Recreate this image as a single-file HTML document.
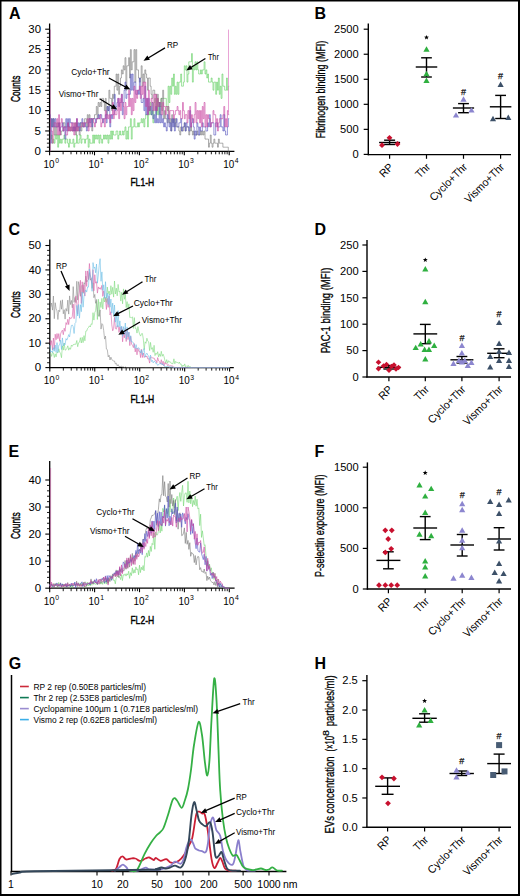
<!DOCTYPE html><html><head><meta charset="utf-8"><style>html,body{margin:0;padding:0;background:#fff;width:520px;height:896px;overflow:hidden}</style></head><body><svg width="520" height="896" viewBox="0 0 520 896" style="position:absolute;left:0;top:0;font-family:'Liberation Sans', sans-serif">
<rect x="0" y="0" width="520" height="896" fill="#fff"/>
<text x="9.0" y="19.0" font-size="16" font-weight="bold">A</text>
<text x="314.6" y="19.0" font-size="16" font-weight="bold">B</text>
<text x="8.5" y="234.9" font-size="16" font-weight="bold">C</text>
<text x="314.6" y="234.9" font-size="16" font-weight="bold">D</text>
<text x="8.6" y="456.8" font-size="16" font-weight="bold">E</text>
<text x="314.6" y="456.8" font-size="16" font-weight="bold">F</text>
<text x="8.7" y="669.0" font-size="16" font-weight="bold">G</text>
<text x="314.6" y="668.8" font-size="16" font-weight="bold">H</text>
<line x1="49.60" y1="23.50" x2="49.60" y2="151.90" stroke="#000" stroke-width="1.3"/>
<line x1="49.00" y1="151.30" x2="234.40" y2="151.30" stroke="#000" stroke-width="1.3"/>
<line x1="45.20" y1="151.30" x2="49.60" y2="151.30" stroke="#000" stroke-width="1.1"/>
<text x="41.00" y="154.90" font-size="10.6" text-anchor="end" textLength="6.4" lengthAdjust="spacingAndGlyphs" fill="#000">0</text>
<line x1="46.90" y1="147.23" x2="49.60" y2="147.23" stroke="#000" stroke-width="0.9"/>
<line x1="46.90" y1="143.16" x2="49.60" y2="143.16" stroke="#000" stroke-width="0.9"/>
<line x1="46.90" y1="139.09" x2="49.60" y2="139.09" stroke="#000" stroke-width="0.9"/>
<line x1="46.90" y1="135.02" x2="49.60" y2="135.02" stroke="#000" stroke-width="0.9"/>
<line x1="45.20" y1="130.95" x2="49.60" y2="130.95" stroke="#000" stroke-width="1.1"/>
<text x="41.00" y="134.55" font-size="10.6" text-anchor="end" textLength="6.4" lengthAdjust="spacingAndGlyphs" fill="#000">5</text>
<line x1="46.90" y1="126.88" x2="49.60" y2="126.88" stroke="#000" stroke-width="0.9"/>
<line x1="46.90" y1="122.81" x2="49.60" y2="122.81" stroke="#000" stroke-width="0.9"/>
<line x1="46.90" y1="118.74" x2="49.60" y2="118.74" stroke="#000" stroke-width="0.9"/>
<line x1="46.90" y1="114.67" x2="49.60" y2="114.67" stroke="#000" stroke-width="0.9"/>
<line x1="45.20" y1="110.60" x2="49.60" y2="110.60" stroke="#000" stroke-width="1.1"/>
<text x="41.00" y="114.20" font-size="10.6" text-anchor="end" textLength="12.7" lengthAdjust="spacingAndGlyphs" fill="#000">10</text>
<line x1="46.90" y1="106.53" x2="49.60" y2="106.53" stroke="#000" stroke-width="0.9"/>
<line x1="46.90" y1="102.46" x2="49.60" y2="102.46" stroke="#000" stroke-width="0.9"/>
<line x1="46.90" y1="98.39" x2="49.60" y2="98.39" stroke="#000" stroke-width="0.9"/>
<line x1="46.90" y1="94.32" x2="49.60" y2="94.32" stroke="#000" stroke-width="0.9"/>
<line x1="45.20" y1="90.25" x2="49.60" y2="90.25" stroke="#000" stroke-width="1.1"/>
<text x="41.00" y="93.85" font-size="10.6" text-anchor="end" textLength="12.7" lengthAdjust="spacingAndGlyphs" fill="#000">15</text>
<line x1="46.90" y1="86.18" x2="49.60" y2="86.18" stroke="#000" stroke-width="0.9"/>
<line x1="46.90" y1="82.11" x2="49.60" y2="82.11" stroke="#000" stroke-width="0.9"/>
<line x1="46.90" y1="78.04" x2="49.60" y2="78.04" stroke="#000" stroke-width="0.9"/>
<line x1="46.90" y1="73.97" x2="49.60" y2="73.97" stroke="#000" stroke-width="0.9"/>
<line x1="45.20" y1="69.90" x2="49.60" y2="69.90" stroke="#000" stroke-width="1.1"/>
<text x="41.00" y="73.50" font-size="10.6" text-anchor="end" textLength="12.7" lengthAdjust="spacingAndGlyphs" fill="#000">20</text>
<line x1="46.90" y1="65.83" x2="49.60" y2="65.83" stroke="#000" stroke-width="0.9"/>
<line x1="46.90" y1="61.76" x2="49.60" y2="61.76" stroke="#000" stroke-width="0.9"/>
<line x1="46.90" y1="57.69" x2="49.60" y2="57.69" stroke="#000" stroke-width="0.9"/>
<line x1="46.90" y1="53.62" x2="49.60" y2="53.62" stroke="#000" stroke-width="0.9"/>
<line x1="45.20" y1="49.55" x2="49.60" y2="49.55" stroke="#000" stroke-width="1.1"/>
<text x="41.00" y="53.15" font-size="10.6" text-anchor="end" textLength="12.7" lengthAdjust="spacingAndGlyphs" fill="#000">25</text>
<line x1="46.90" y1="45.48" x2="49.60" y2="45.48" stroke="#000" stroke-width="0.9"/>
<line x1="46.90" y1="41.41" x2="49.60" y2="41.41" stroke="#000" stroke-width="0.9"/>
<line x1="46.90" y1="37.34" x2="49.60" y2="37.34" stroke="#000" stroke-width="0.9"/>
<line x1="46.90" y1="33.27" x2="49.60" y2="33.27" stroke="#000" stroke-width="0.9"/>
<line x1="45.20" y1="29.20" x2="49.60" y2="29.20" stroke="#000" stroke-width="1.1"/>
<text x="41.00" y="32.80" font-size="10.6" text-anchor="end" textLength="12.7" lengthAdjust="spacingAndGlyphs" fill="#000">30</text>
<line x1="49.60" y1="151.30" x2="49.60" y2="155.30" stroke="#000" stroke-width="1.1"/>
<line x1="63.12" y1="151.30" x2="63.12" y2="154.30" stroke="#000" stroke-width="0.9"/>
<line x1="71.02" y1="151.30" x2="71.02" y2="154.30" stroke="#000" stroke-width="0.9"/>
<line x1="76.63" y1="151.30" x2="76.63" y2="154.30" stroke="#000" stroke-width="0.9"/>
<line x1="80.98" y1="151.30" x2="80.98" y2="154.30" stroke="#000" stroke-width="0.9"/>
<line x1="84.54" y1="151.30" x2="84.54" y2="154.30" stroke="#000" stroke-width="0.9"/>
<line x1="87.54" y1="151.30" x2="87.54" y2="154.30" stroke="#000" stroke-width="0.9"/>
<line x1="90.15" y1="151.30" x2="90.15" y2="154.30" stroke="#000" stroke-width="0.9"/>
<line x1="92.45" y1="151.30" x2="92.45" y2="154.30" stroke="#000" stroke-width="0.9"/>
<line x1="94.50" y1="151.30" x2="94.50" y2="155.30" stroke="#000" stroke-width="1.1"/>
<line x1="108.02" y1="151.30" x2="108.02" y2="154.30" stroke="#000" stroke-width="0.9"/>
<line x1="115.92" y1="151.30" x2="115.92" y2="154.30" stroke="#000" stroke-width="0.9"/>
<line x1="121.53" y1="151.30" x2="121.53" y2="154.30" stroke="#000" stroke-width="0.9"/>
<line x1="125.88" y1="151.30" x2="125.88" y2="154.30" stroke="#000" stroke-width="0.9"/>
<line x1="129.44" y1="151.30" x2="129.44" y2="154.30" stroke="#000" stroke-width="0.9"/>
<line x1="132.44" y1="151.30" x2="132.44" y2="154.30" stroke="#000" stroke-width="0.9"/>
<line x1="135.05" y1="151.30" x2="135.05" y2="154.30" stroke="#000" stroke-width="0.9"/>
<line x1="137.35" y1="151.30" x2="137.35" y2="154.30" stroke="#000" stroke-width="0.9"/>
<line x1="139.40" y1="151.30" x2="139.40" y2="155.30" stroke="#000" stroke-width="1.1"/>
<line x1="152.92" y1="151.30" x2="152.92" y2="154.30" stroke="#000" stroke-width="0.9"/>
<line x1="160.82" y1="151.30" x2="160.82" y2="154.30" stroke="#000" stroke-width="0.9"/>
<line x1="166.43" y1="151.30" x2="166.43" y2="154.30" stroke="#000" stroke-width="0.9"/>
<line x1="170.78" y1="151.30" x2="170.78" y2="154.30" stroke="#000" stroke-width="0.9"/>
<line x1="174.34" y1="151.30" x2="174.34" y2="154.30" stroke="#000" stroke-width="0.9"/>
<line x1="177.34" y1="151.30" x2="177.34" y2="154.30" stroke="#000" stroke-width="0.9"/>
<line x1="179.95" y1="151.30" x2="179.95" y2="154.30" stroke="#000" stroke-width="0.9"/>
<line x1="182.25" y1="151.30" x2="182.25" y2="154.30" stroke="#000" stroke-width="0.9"/>
<line x1="184.30" y1="151.30" x2="184.30" y2="155.30" stroke="#000" stroke-width="1.1"/>
<line x1="197.82" y1="151.30" x2="197.82" y2="154.30" stroke="#000" stroke-width="0.9"/>
<line x1="205.72" y1="151.30" x2="205.72" y2="154.30" stroke="#000" stroke-width="0.9"/>
<line x1="211.33" y1="151.30" x2="211.33" y2="154.30" stroke="#000" stroke-width="0.9"/>
<line x1="215.68" y1="151.30" x2="215.68" y2="154.30" stroke="#000" stroke-width="0.9"/>
<line x1="219.24" y1="151.30" x2="219.24" y2="154.30" stroke="#000" stroke-width="0.9"/>
<line x1="222.24" y1="151.30" x2="222.24" y2="154.30" stroke="#000" stroke-width="0.9"/>
<line x1="224.85" y1="151.30" x2="224.85" y2="154.30" stroke="#000" stroke-width="0.9"/>
<line x1="227.15" y1="151.30" x2="227.15" y2="154.30" stroke="#000" stroke-width="0.9"/>
<line x1="229.20" y1="151.30" x2="229.20" y2="155.30" stroke="#000" stroke-width="1.1"/>
<text x="43.60" y="167.60" font-size="10" textLength="11.0" lengthAdjust="spacingAndGlyphs">10</text>
<text x="55.20" y="163.30" font-size="6.8">0</text>
<text x="88.50" y="167.60" font-size="10" textLength="11.0" lengthAdjust="spacingAndGlyphs">10</text>
<text x="100.10" y="163.30" font-size="6.8">1</text>
<text x="133.40" y="167.60" font-size="10" textLength="11.0" lengthAdjust="spacingAndGlyphs">10</text>
<text x="145.00" y="163.30" font-size="6.8">2</text>
<text x="178.30" y="167.60" font-size="10" textLength="11.0" lengthAdjust="spacingAndGlyphs">10</text>
<text x="189.90" y="163.30" font-size="6.8">3</text>
<text x="223.20" y="167.60" font-size="10" textLength="11.0" lengthAdjust="spacingAndGlyphs">10</text>
<text x="234.80" y="163.30" font-size="6.8">4</text>
<text transform="translate(20.10,88.90) rotate(-90)" font-size="13.2" text-anchor="middle" textLength="26.4" lengthAdjust="spacingAndGlyphs" stroke="#000" stroke-width="0.45">Counts</text>
<text x="130.40" y="185.80" font-size="11.8" text-anchor="start" textLength="23.8" lengthAdjust="spacingAndGlyphs" fill="#000" stroke="#000" stroke-width="0.45">FL1-H</text>
<path d="M49.6,139.1 L50.5,139.1 L50.5,139.1 L51.4,139.1 L51.4,135.0 L52.3,135.0 L52.3,143.2 L53.2,143.2 L53.2,139.1 L54.1,139.1 L54.1,143.2 L55.0,143.2 L55.0,135.0 L55.9,135.0 L55.9,139.1 L56.8,139.1 L56.8,135.0 L57.7,135.0 L57.7,147.2 L58.6,147.2 L58.6,135.0 L59.5,135.0 L59.5,143.2 L60.4,143.2 L60.4,139.1 L61.3,139.1 L61.3,143.2 L62.2,143.2 L62.2,139.1 L63.1,139.1 L63.1,139.1 L64.0,139.1 L64.0,135.0 L64.9,135.0 L64.9,143.2 L65.8,143.2 L65.8,139.1 L66.7,139.1 L66.7,139.1 L67.6,139.1 L67.6,143.2 L68.5,143.2 L68.5,147.2 L69.4,147.2 L69.4,139.1 L70.3,139.1 L70.3,143.2 L71.2,143.2 L71.2,143.2 L72.0,143.2 L72.0,143.2 L72.9,143.2 L72.9,139.1 L73.8,139.1 L73.8,147.2 L74.7,147.2 L74.7,143.2 L75.6,143.2 L75.6,143.2 L76.5,143.2 L76.5,135.0 L77.4,135.0 L77.4,143.2 L78.3,143.2 L78.3,143.2 L79.2,143.2 L79.2,139.1 L80.1,139.1 L80.1,135.0 L81.0,135.0 L81.0,143.2 L81.9,143.2 L81.9,139.1 L82.8,139.1 L82.8,139.1 L83.7,139.1 L83.7,139.1 L84.6,139.1 L84.6,143.2 L85.5,143.2 L85.5,139.1 L86.4,139.1 L86.4,139.1 L87.3,139.1 L87.3,135.0 L88.2,135.0 L88.2,147.2 L89.1,147.2 L89.1,139.1 L90.0,139.1 L90.0,143.2 L90.9,143.2 L90.9,143.2 L91.8,143.2 L91.8,143.2 L92.7,143.2 L92.7,135.0 L93.6,135.0 L93.6,143.2 L94.5,143.2 L94.5,135.0 L95.4,135.0 L95.4,139.1 L96.3,139.1 L96.3,135.0 L97.2,135.0 L97.2,139.1 L98.1,139.1 L98.1,135.0 L99.0,135.0 L99.0,143.2 L99.9,143.2 L99.9,135.0 L100.8,135.0 L100.8,139.1 L101.7,139.1 L101.7,143.2 L102.6,143.2 L102.6,139.1 L103.5,139.1 L103.5,135.0 L104.4,135.0 L104.4,139.1 L105.3,139.1 L105.3,135.0 L106.2,135.0 L106.2,139.1 L107.1,139.1 L107.1,135.0 L108.0,135.0 L108.0,143.2 L108.9,143.2 L108.9,135.0 L109.8,135.0 L109.8,139.1 L110.7,139.1 L110.7,131.0 L111.6,131.0 L111.6,139.1 L112.5,139.1 L112.5,131.0 L113.4,131.0 L113.4,135.0 L114.3,135.0 L114.3,135.0 L115.2,135.0 L115.2,135.0 L116.1,135.0 L116.1,131.0 L116.9,131.0 L116.9,131.0 L117.8,131.0 L117.8,139.1 L118.7,139.1 L118.7,135.0 L119.6,135.0 L119.6,131.0 L120.5,131.0 L120.5,135.0 L121.4,135.0 L121.4,135.0 L122.3,135.0 L122.3,131.0 L123.2,131.0 L123.2,135.0 L124.1,135.0 L124.1,131.0 L125.0,131.0 L125.0,126.9 L125.9,126.9 L125.9,139.1 L126.8,139.1 L126.8,131.0 L127.7,131.0 L127.7,139.1 L128.6,139.1 L128.6,126.9 L129.5,126.9 L129.5,126.9 L130.4,126.9 L130.4,118.7 L131.3,118.7 L131.3,139.1 L132.2,139.1 L132.2,126.9 L133.1,126.9 L133.1,126.9 L134.0,126.9 L134.0,118.7 L134.9,118.7 L134.9,126.9 L135.8,126.9 L135.8,126.9 L136.7,126.9 L136.7,126.9 L137.6,126.9 L137.6,122.8 L138.5,122.8 L138.5,126.9 L139.4,126.9 L139.4,122.8 L140.3,122.8 L140.3,122.8 L141.2,122.8 L141.2,118.7 L142.1,118.7 L142.1,122.8 L143.0,122.8 L143.0,118.7 L143.9,118.7 L143.9,126.9 L144.8,126.9 L144.8,118.7 L145.7,118.7 L145.7,114.7 L146.6,114.7 L146.6,114.7 L147.5,114.7 L147.5,126.9 L148.4,126.9 L148.4,106.5 L149.3,106.5 L149.3,114.7 L150.2,114.7 L150.2,102.5 L151.1,102.5 L151.1,114.7 L152.0,114.7 L152.0,110.6 L152.9,110.6 L152.9,122.8 L153.8,122.8 L153.8,102.5 L154.7,102.5 L154.7,98.4 L155.6,98.4 L155.6,110.6 L156.5,110.6 L156.5,114.7 L157.4,114.7 L157.4,98.4 L158.3,98.4 L158.3,114.7 L159.2,114.7 L159.2,102.5 L160.1,102.5 L160.1,106.5 L161.0,106.5 L161.0,98.4 L161.8,98.4 L161.8,98.4 L162.7,98.4 L162.7,98.4 L163.6,98.4 L163.6,98.4 L164.5,98.4 L164.5,98.4 L165.4,98.4 L165.4,98.4 L166.3,98.4 L166.3,106.5 L167.2,106.5 L167.2,110.6 L168.1,110.6 L168.1,86.2 L169.0,86.2 L169.0,102.5 L169.9,102.5 L169.9,86.2 L170.8,86.2 L170.8,94.3 L171.7,94.3 L171.7,78.0 L172.6,78.0 L172.6,86.2 L173.5,86.2 L173.5,74.0 L174.4,74.0 L174.4,94.3 L175.3,94.3 L175.3,86.2 L176.2,86.2 L176.2,94.3 L177.1,94.3 L177.1,82.1 L178.0,82.1 L178.0,94.3 L178.9,94.3 L178.9,82.1 L179.8,82.1 L179.8,82.1 L180.7,82.1 L180.7,74.0 L181.6,74.0 L181.6,86.2 L182.5,86.2 L182.5,86.2 L183.4,86.2 L183.4,82.1 L184.3,82.1 L184.3,65.8 L185.2,65.8 L185.2,69.9 L186.1,69.9 L186.1,65.8 L187.0,65.8 L187.0,82.1 L187.9,82.1 L187.9,74.0 L188.8,74.0 L188.8,61.8 L189.7,61.8 L189.7,61.8 L190.6,61.8 L190.6,61.8 L191.5,61.8 L191.5,53.6 L192.4,53.6 L192.4,82.1 L193.3,82.1 L193.3,65.8 L194.2,65.8 L194.2,69.9 L195.1,69.9 L195.1,61.8 L196.0,61.8 L196.0,69.9 L196.9,69.9 L196.9,61.8 L197.8,61.8 L197.8,69.9 L198.7,69.9 L198.7,74.0 L199.6,74.0 L199.6,74.0 L200.5,74.0 L200.5,69.9 L201.4,69.9 L201.4,74.0 L202.3,74.0 L202.3,69.9 L203.2,69.9 L203.2,69.9 L204.1,69.9 L204.1,61.8 L205.0,61.8 L205.0,74.0 L205.9,74.0 L205.9,69.9 L206.8,69.9 L206.8,78.0 L207.6,78.0 L207.6,74.0 L208.5,74.0 L208.5,82.1 L209.4,82.1 L209.4,82.1 L210.3,82.1 L210.3,82.1 L211.2,82.1 L211.2,78.0 L212.1,78.0 L212.1,82.1 L213.0,82.1 L213.0,90.2 L213.9,90.2 L213.9,82.1 L214.8,82.1 L214.8,82.1 L215.7,82.1 L215.7,94.3 L216.6,94.3 L216.6,82.1 L217.5,82.1 L217.5,90.2 L218.4,90.2 L218.4,78.0 L219.3,78.0 L219.3,94.3 L220.2,94.3 L220.2,86.2 L221.1,86.2 L221.1,98.4 L222.0,98.4 L222.0,74.0 L222.9,74.0 L222.9,86.2 L223.8,86.2 L223.8,86.2 L224.7,86.2 L224.7,90.2 L225.6,90.2 L225.6,90.2 L226.5,90.2 L226.5,78.0 L227.4,78.0 L227.4,90.2 L228.3,90.2 L228.3,86.2 L229.2,86.2" fill="none" stroke="#5ecf5e" stroke-width="0.6" stroke-linejoin="miter" opacity="1.0"/>
<path d="M49.6,122.8 L50.5,122.8 L50.5,126.9 L51.4,126.9 L51.4,118.7 L52.3,118.7 L52.3,126.9 L53.2,126.9 L53.2,118.7 L54.1,118.7 L54.1,135.0 L55.0,135.0 L55.0,126.9 L55.9,126.9 L55.9,135.0 L56.8,135.0 L56.8,122.8 L57.7,122.8 L57.7,126.9 L58.6,126.9 L58.6,122.8 L59.5,122.8 L59.5,131.0 L60.4,131.0 L60.4,135.0 L61.3,135.0 L61.3,131.0 L62.2,131.0 L62.2,131.0 L63.1,131.0 L63.1,122.8 L64.0,122.8 L64.0,122.8 L64.9,122.8 L64.9,126.9 L65.8,126.9 L65.8,126.9 L66.7,126.9 L66.7,126.9 L67.6,126.9 L67.6,122.8 L68.5,122.8 L68.5,131.0 L69.4,131.0 L69.4,126.9 L70.3,126.9 L70.3,131.0 L71.2,131.0 L71.2,126.9 L72.0,126.9 L72.0,131.0 L72.9,131.0 L72.9,126.9 L73.8,126.9 L73.8,131.0 L74.7,131.0 L74.7,122.8 L75.6,122.8 L75.6,135.0 L76.5,135.0 L76.5,122.8 L77.4,122.8 L77.4,131.0 L78.3,131.0 L78.3,126.9 L79.2,126.9 L79.2,135.0 L80.1,135.0 L80.1,122.8 L81.0,122.8 L81.0,131.0 L81.9,131.0 L81.9,122.8 L82.8,122.8 L82.8,126.9 L83.7,126.9 L83.7,122.8 L84.6,122.8 L84.6,118.7 L85.5,118.7 L85.5,118.7 L86.4,118.7 L86.4,126.9 L87.3,126.9 L87.3,114.7 L88.2,114.7 L88.2,126.9 L89.1,126.9 L89.1,114.7 L90.0,114.7 L90.0,118.7 L90.9,118.7 L90.9,118.7 L91.8,118.7 L91.8,131.0 L92.7,131.0 L92.7,118.7 L93.6,118.7 L93.6,118.7 L94.5,118.7 L94.5,114.7 L95.4,114.7 L95.4,114.7 L96.3,114.7 L96.3,106.5 L97.2,106.5 L97.2,118.7 L98.1,118.7 L98.1,102.5 L99.0,102.5 L99.0,106.5 L99.9,106.5 L99.9,102.5 L100.8,102.5 L100.8,106.5 L101.7,106.5 L101.7,98.4 L102.6,98.4 L102.6,98.4 L103.5,98.4 L103.5,102.5 L104.4,102.5 L104.4,110.6 L105.3,110.6 L105.3,98.4 L106.2,98.4 L106.2,114.7 L107.1,114.7 L107.1,106.5 L108.0,106.5 L108.0,110.6 L108.9,110.6 L108.9,90.2 L109.8,90.2 L109.8,98.4 L110.7,98.4 L110.7,98.4 L111.6,98.4 L111.6,110.6 L112.5,110.6 L112.5,94.3 L113.4,94.3 L113.4,98.4 L114.3,98.4 L114.3,86.2 L115.2,86.2 L115.2,86.2 L116.1,86.2 L116.1,74.0 L116.9,74.0 L116.9,90.2 L117.8,90.2 L117.8,74.0 L118.7,74.0 L118.7,94.3 L119.6,94.3 L119.6,86.2 L120.5,86.2 L120.5,78.0 L121.4,78.0 L121.4,69.9 L122.3,69.9 L122.3,74.0 L123.2,74.0 L123.2,65.8 L124.1,65.8 L124.1,69.9 L125.0,69.9 L125.0,57.7 L125.9,57.7 L125.9,90.2 L126.8,90.2 L126.8,65.8 L127.7,65.8 L127.7,65.8 L128.6,65.8 L128.6,57.7 L129.5,57.7 L129.5,78.0 L130.4,78.0 L130.4,49.6 L131.3,49.6 L131.3,69.9 L132.2,69.9 L132.2,61.8 L133.1,61.8 L133.1,61.8 L134.0,61.8 L134.0,49.6 L134.9,49.6 L134.9,82.1 L135.8,82.1 L135.8,49.6 L136.7,49.6 L136.7,69.9 L137.6,69.9 L137.6,69.9 L138.5,69.9 L138.5,78.0 L139.4,78.0 L139.4,82.1 L140.3,82.1 L140.3,78.0 L141.2,78.0 L141.2,65.8 L142.1,65.8 L142.1,86.2 L143.0,86.2 L143.0,74.0 L143.9,74.0 L143.9,82.1 L144.8,82.1 L144.8,69.9 L145.7,69.9 L145.7,74.0 L146.6,74.0 L146.6,78.0 L147.5,78.0 L147.5,90.2 L148.4,90.2 L148.4,78.0 L149.3,78.0 L149.3,78.0 L150.2,78.0 L150.2,86.2 L151.1,86.2 L151.1,94.3 L152.0,94.3 L152.0,98.4 L152.9,98.4 L152.9,90.2 L153.8,90.2 L153.8,90.2 L154.7,90.2 L154.7,94.3 L155.6,94.3 L155.6,94.3 L156.5,94.3 L156.5,110.6 L157.4,110.6 L157.4,94.3 L158.3,94.3 L158.3,102.5 L159.2,102.5 L159.2,106.5 L160.1,106.5 L160.1,114.7 L161.0,114.7 L161.0,98.4 L161.8,98.4 L161.8,110.6 L162.7,110.6 L162.7,90.2 L163.6,90.2 L163.6,118.7 L164.5,118.7 L164.5,110.6 L165.4,110.6 L165.4,118.7 L166.3,118.7 L166.3,118.7 L167.2,118.7 L167.2,122.8 L168.1,122.8 L168.1,106.5 L169.0,106.5 L169.0,122.8 L169.9,122.8 L169.9,118.7 L170.8,118.7 L170.8,131.0 L171.7,131.0 L171.7,114.7 L172.6,114.7 L172.6,122.8 L173.5,122.8 L173.5,118.7 L174.4,118.7 L174.4,126.9 L175.3,126.9 L175.3,118.7 L176.2,118.7 L176.2,126.9 L177.1,126.9 L177.1,126.9 L178.0,126.9 L178.0,126.9 L178.9,126.9 L178.9,131.0 L179.8,131.0 L179.8,135.0 L180.7,135.0 L180.7,126.9 L181.6,126.9 L181.6,131.0 L182.5,131.0 L182.5,131.0 L183.4,131.0 L183.4,126.9 L184.3,126.9 L184.3,122.8 L185.2,122.8 L185.2,131.0 L186.1,131.0 L186.1,126.9 L187.0,126.9 L187.0,126.9 L187.9,126.9 L187.9,126.9 L188.8,126.9 L188.8,135.0 L189.7,135.0 L189.7,131.0 L190.6,131.0 L190.6,126.9 L191.5,126.9 L191.5,131.0 L192.4,131.0 L192.4,135.0 L193.3,135.0 L193.3,131.0 L194.2,131.0 L194.2,135.0 L195.1,135.0 L195.1,135.0 L196.0,135.0 L196.0,135.0 L196.9,135.0 L196.9,131.0 L197.8,131.0 L197.8,135.0 L198.7,135.0 L198.7,135.0 L199.6,135.0 L199.6,135.0 L200.5,135.0 L200.5,131.0 L201.4,131.0 L201.4,135.0 L202.3,135.0 L202.3,131.0 L203.2,131.0 L203.2,135.0 L204.1,135.0 L204.1,131.0 L205.0,131.0 L205.0,139.1 L205.9,139.1 L205.9,139.1 L206.8,139.1 L206.8,139.1 L207.6,139.1 L207.6,139.1 L208.5,139.1 L208.5,147.2 L209.4,147.2 L209.4,143.2 L210.3,143.2 L210.3,135.0 L211.2,135.0 L211.2,143.2 L212.1,143.2 L212.1,147.2 L213.0,147.2 L213.0,143.2 L213.9,143.2 L213.9,139.1 L214.8,139.1 L214.8,143.2 L215.7,143.2 L215.7,143.2 L216.6,143.2 L216.6,143.2 L217.5,143.2 L217.5,147.2 L218.4,147.2 L218.4,139.1 L219.3,139.1 L219.3,143.2 L220.2,143.2 L220.2,143.2 L221.1,143.2 L221.1,143.2 L222.0,143.2 L222.0,143.2 L222.9,143.2 L222.9,147.2 L223.8,147.2 L223.8,147.2 L224.7,147.2 L224.7,147.2 L225.6,147.2 L225.6,147.2 L226.5,147.2 L226.5,147.2 L227.4,147.2 L227.4,147.2 L228.3,147.2 L228.3,151.3 L229.2,151.3" fill="none" stroke="#777" stroke-width="0.6" stroke-linejoin="miter" opacity="1.0"/>
<path d="M49.6,114.7 L50.5,114.7 L50.5,143.2 L51.4,143.2 L51.4,118.7 L52.3,118.7 L52.3,126.9 L53.2,126.9 L53.2,118.7 L54.1,118.7 L54.1,126.9 L55.0,126.9 L55.0,118.7 L55.9,118.7 L55.9,126.9 L56.8,126.9 L56.8,126.9 L57.7,126.9 L57.7,126.9 L58.6,126.9 L58.6,122.8 L59.5,122.8 L59.5,131.0 L60.4,131.0 L60.4,126.9 L61.3,126.9 L61.3,126.9 L62.2,126.9 L62.2,122.8 L63.1,122.8 L63.1,131.0 L64.0,131.0 L64.0,126.9 L64.9,126.9 L64.9,139.1 L65.8,139.1 L65.8,118.7 L66.7,118.7 L66.7,131.0 L67.6,131.0 L67.6,118.7 L68.5,118.7 L68.5,126.9 L69.4,126.9 L69.4,118.7 L70.3,118.7 L70.3,122.8 L71.2,122.8 L71.2,122.8 L72.0,122.8 L72.0,122.8 L72.9,122.8 L72.9,131.0 L73.8,131.0 L73.8,126.9 L74.7,126.9 L74.7,131.0 L75.6,131.0 L75.6,126.9 L76.5,126.9 L76.5,118.7 L77.4,118.7 L77.4,126.9 L78.3,126.9 L78.3,122.8 L79.2,122.8 L79.2,131.0 L80.1,131.0 L80.1,122.8 L81.0,122.8 L81.0,122.8 L81.9,122.8 L81.9,118.7 L82.8,118.7 L82.8,126.9 L83.7,126.9 L83.7,126.9 L84.6,126.9 L84.6,122.8 L85.5,122.8 L85.5,126.9 L86.4,126.9 L86.4,131.0 L87.3,131.0 L87.3,126.9 L88.2,126.9 L88.2,122.8 L89.1,122.8 L89.1,118.7 L90.0,118.7 L90.0,122.8 L90.9,122.8 L90.9,118.7 L91.8,118.7 L91.8,126.9 L92.7,126.9 L92.7,118.7 L93.6,118.7 L93.6,118.7 L94.5,118.7 L94.5,118.7 L95.4,118.7 L95.4,122.8 L96.3,122.8 L96.3,118.7 L97.2,118.7 L97.2,118.7 L98.1,118.7 L98.1,114.7 L99.0,114.7 L99.0,118.7 L99.9,118.7 L99.9,114.7 L100.8,114.7 L100.8,114.7 L101.7,114.7 L101.7,118.7 L102.6,118.7 L102.6,122.8 L103.5,122.8 L103.5,118.7 L104.4,118.7 L104.4,118.7 L105.3,118.7 L105.3,114.7 L106.2,114.7 L106.2,122.8 L107.1,122.8 L107.1,106.5 L108.0,106.5 L108.0,110.6 L108.9,110.6 L108.9,106.5 L109.8,106.5 L109.8,126.9 L110.7,126.9 L110.7,114.7 L111.6,114.7 L111.6,118.7 L112.5,118.7 L112.5,114.7 L113.4,114.7 L113.4,114.7 L114.3,114.7 L114.3,94.3 L115.2,94.3 L115.2,110.6 L116.1,110.6 L116.1,106.5 L116.9,106.5 L116.9,102.5 L117.8,102.5 L117.8,98.4 L118.7,98.4 L118.7,106.5 L119.6,106.5 L119.6,102.5 L120.5,102.5 L120.5,102.5 L121.4,102.5 L121.4,94.3 L122.3,94.3 L122.3,114.7 L123.2,114.7 L123.2,102.5 L124.1,102.5 L124.1,90.2 L125.0,90.2 L125.0,82.1 L125.9,82.1 L125.9,98.4 L126.8,98.4 L126.8,94.3 L127.7,94.3 L127.7,94.3 L128.6,94.3 L128.6,94.3 L129.5,94.3 L129.5,94.3 L130.4,94.3 L130.4,74.0 L131.3,74.0 L131.3,90.2 L132.2,90.2 L132.2,74.0 L133.1,74.0 L133.1,90.2 L134.0,90.2 L134.0,82.1 L134.9,82.1 L134.9,82.1 L135.8,82.1 L135.8,94.3 L136.7,94.3 L136.7,94.3 L137.6,94.3 L137.6,90.2 L138.5,90.2 L138.5,94.3 L139.4,94.3 L139.4,78.0 L140.3,78.0 L140.3,94.3 L141.2,94.3 L141.2,102.5 L142.1,102.5 L142.1,102.5 L143.0,102.5 L143.0,98.4 L143.9,98.4 L143.9,110.6 L144.8,110.6 L144.8,86.2 L145.7,86.2 L145.7,114.7 L146.6,114.7 L146.6,98.4 L147.5,98.4 L147.5,114.7 L148.4,114.7 L148.4,98.4 L149.3,98.4 L149.3,110.6 L150.2,110.6 L150.2,106.5 L151.1,106.5 L151.1,114.7 L152.0,114.7 L152.0,102.5 L152.9,102.5 L152.9,118.7 L153.8,118.7 L153.8,114.7 L154.7,114.7 L154.7,122.8 L155.6,122.8 L155.6,106.5 L156.5,106.5 L156.5,122.8 L157.4,122.8 L157.4,118.7 L158.3,118.7 L158.3,122.8 L159.2,122.8 L159.2,102.5 L160.1,102.5 L160.1,122.8 L161.0,122.8 L161.0,114.7 L161.8,114.7 L161.8,122.8 L162.7,122.8 L162.7,118.7 L163.6,118.7 L163.6,126.9 L164.5,126.9 L164.5,122.8 L165.4,122.8 L165.4,126.9 L166.3,126.9 L166.3,131.0 L167.2,131.0 L167.2,114.7 L168.1,114.7 L168.1,118.7 L169.0,118.7 L169.0,126.9 L169.9,126.9 L169.9,122.8 L170.8,122.8 L170.8,131.0 L171.7,131.0 L171.7,118.7 L172.6,118.7 L172.6,126.9 L173.5,126.9 L173.5,118.7 L174.4,118.7 L174.4,131.0 L175.3,131.0 L175.3,122.8 L176.2,122.8 L176.2,118.7 L177.1,118.7 L177.1,126.9 L178.0,126.9 L178.0,126.9 L178.9,126.9 L178.9,122.8 L179.8,122.8 L179.8,122.8 L180.7,122.8 L180.7,118.7 L181.6,118.7 L181.6,131.0 L182.5,131.0 L182.5,126.9 L183.4,126.9 L183.4,126.9 L184.3,126.9 L184.3,122.8 L185.2,122.8 L185.2,131.0 L186.1,131.0 L186.1,122.8 L187.0,122.8 L187.0,126.9 L187.9,126.9 L187.9,126.9 L188.8,126.9 L188.8,131.0 L189.7,131.0 L189.7,110.6 L190.6,110.6 L190.6,126.9 L191.5,126.9 L191.5,122.8 L192.4,122.8 L192.4,118.7 L193.3,118.7 L193.3,126.9 L194.2,126.9 L194.2,139.1 L195.1,139.1 L195.1,131.0 L196.0,131.0 L196.0,135.0 L196.9,135.0 L196.9,122.8 L197.8,122.8 L197.8,126.9 L198.7,126.9 L198.7,135.0 L199.6,135.0 L199.6,126.9 L200.5,126.9 L200.5,131.0 L201.4,131.0 L201.4,131.0 L202.3,131.0 L202.3,122.8 L203.2,122.8 L203.2,126.9 L204.1,126.9 L204.1,126.9 L205.0,126.9 L205.0,126.9 L205.9,126.9 L205.9,131.0 L206.8,131.0 L206.8,131.0 L207.6,131.0 L207.6,122.8 L208.5,122.8 L208.5,126.9 L209.4,126.9 L209.4,114.7 L210.3,114.7 L210.3,126.9 L211.2,126.9 L211.2,122.8 L212.1,122.8 L212.1,122.8 L213.0,122.8 L213.0,122.8 L213.9,122.8 L213.9,135.0 L214.8,135.0 L214.8,135.0 L215.7,135.0 L215.7,122.8 L216.6,122.8 L216.6,122.8 L217.5,122.8 L217.5,126.9 L218.4,126.9 L218.4,126.9 L219.3,126.9 L219.3,126.9 L220.2,126.9 L220.2,114.7 L221.1,114.7 L221.1,126.9 L222.0,126.9 L222.0,126.9 L222.9,126.9 L222.9,131.0 L223.8,131.0 L223.8,114.7 L224.7,114.7 L224.7,131.0 L225.6,131.0 L225.6,135.0 L226.5,135.0 L226.5,135.0 L227.4,135.0 L227.4,126.9 L228.3,126.9 L228.3,118.7 L229.2,118.7" fill="none" stroke="#4d4dbb" stroke-width="0.6" stroke-linejoin="miter" opacity="1.0"/>
<path d="M49.6,118.7 L50.5,118.7 L50.5,131.0 L51.4,131.0 L51.4,131.0 L52.3,131.0 L52.3,143.2 L53.2,143.2 L53.2,126.9 L54.1,126.9 L54.1,122.8 L55.0,122.8 L55.0,122.8 L55.9,122.8 L55.9,126.9 L56.8,126.9 L56.8,118.7 L57.7,118.7 L57.7,135.0 L58.6,135.0 L58.6,114.7 L59.5,114.7 L59.5,135.0 L60.4,135.0 L60.4,122.8 L61.3,122.8 L61.3,118.7 L62.2,118.7 L62.2,126.9 L63.1,126.9 L63.1,131.0 L64.0,131.0 L64.0,126.9 L64.9,126.9 L64.9,126.9 L65.8,126.9 L65.8,135.0 L66.7,135.0 L66.7,135.0 L67.6,135.0 L67.6,122.8 L68.5,122.8 L68.5,131.0 L69.4,131.0 L69.4,126.9 L70.3,126.9 L70.3,131.0 L71.2,131.0 L71.2,122.8 L72.0,122.8 L72.0,131.0 L72.9,131.0 L72.9,122.8 L73.8,122.8 L73.8,135.0 L74.7,135.0 L74.7,122.8 L75.6,122.8 L75.6,131.0 L76.5,131.0 L76.5,118.7 L77.4,118.7 L77.4,131.0 L78.3,131.0 L78.3,126.9 L79.2,126.9 L79.2,126.9 L80.1,126.9 L80.1,126.9 L81.0,126.9 L81.0,126.9 L81.9,126.9 L81.9,122.8 L82.8,122.8 L82.8,122.8 L83.7,122.8 L83.7,126.9 L84.6,126.9 L84.6,122.8 L85.5,122.8 L85.5,122.8 L86.4,122.8 L86.4,122.8 L87.3,122.8 L87.3,118.7 L88.2,118.7 L88.2,131.0 L89.1,131.0 L89.1,118.7 L90.0,118.7 L90.0,126.9 L90.9,126.9 L90.9,118.7 L91.8,118.7 L91.8,118.7 L92.7,118.7 L92.7,118.7 L93.6,118.7 L93.6,122.8 L94.5,122.8 L94.5,126.9 L95.4,126.9 L95.4,122.8 L96.3,122.8 L96.3,118.7 L97.2,118.7 L97.2,118.7 L98.1,118.7 L98.1,118.7 L99.0,118.7 L99.0,118.7 L99.9,118.7 L99.9,114.7 L100.8,114.7 L100.8,126.9 L101.7,126.9 L101.7,122.8 L102.6,122.8 L102.6,118.7 L103.5,118.7 L103.5,118.7 L104.4,118.7 L104.4,126.9 L105.3,126.9 L105.3,110.6 L106.2,110.6 L106.2,118.7 L107.1,118.7 L107.1,114.7 L108.0,114.7 L108.0,118.7 L108.9,118.7 L108.9,114.7 L109.8,114.7 L109.8,122.8 L110.7,122.8 L110.7,114.7 L111.6,114.7 L111.6,114.7 L112.5,114.7 L112.5,102.5 L113.4,102.5 L113.4,118.7 L114.3,118.7 L114.3,110.6 L115.2,110.6 L115.2,114.7 L116.1,114.7 L116.1,114.7 L116.9,114.7 L116.9,110.6 L117.8,110.6 L117.8,98.4 L118.7,98.4 L118.7,118.7 L119.6,118.7 L119.6,98.4 L120.5,98.4 L120.5,110.6 L121.4,110.6 L121.4,94.3 L122.3,94.3 L122.3,102.5 L123.2,102.5 L123.2,106.5 L124.1,106.5 L124.1,118.7 L125.0,118.7 L125.0,102.5 L125.9,102.5 L125.9,114.7 L126.8,114.7 L126.8,106.5 L127.7,106.5 L127.7,106.5 L128.6,106.5 L128.6,90.2 L129.5,90.2 L129.5,106.5 L130.4,106.5 L130.4,98.4 L131.3,98.4 L131.3,114.7 L132.2,114.7 L132.2,98.4 L133.1,98.4 L133.1,110.6 L134.0,110.6 L134.0,86.2 L134.9,86.2 L134.9,102.5 L135.8,102.5 L135.8,90.2 L136.7,90.2 L136.7,98.4 L137.6,98.4 L137.6,90.2 L138.5,90.2 L138.5,90.2 L139.4,90.2 L139.4,86.2 L140.3,86.2 L140.3,98.4 L141.2,98.4 L141.2,86.2 L142.1,86.2 L142.1,94.3 L143.0,94.3 L143.0,82.1 L143.9,82.1 L143.9,98.4 L144.8,98.4 L144.8,82.1 L145.7,82.1 L145.7,106.5 L146.6,106.5 L146.6,98.4 L147.5,98.4 L147.5,114.7 L148.4,114.7 L148.4,90.2 L149.3,90.2 L149.3,110.6 L150.2,110.6 L150.2,106.5 L151.1,106.5 L151.1,98.4 L152.0,98.4 L152.0,102.5 L152.9,102.5 L152.9,110.6 L153.8,110.6 L153.8,94.3 L154.7,94.3 L154.7,110.6 L155.6,110.6 L155.6,94.3 L156.5,94.3 L156.5,110.6 L157.4,110.6 L157.4,98.4 L158.3,98.4 L158.3,106.5 L159.2,106.5 L159.2,102.5 L160.1,102.5 L160.1,102.5 L161.0,102.5 L161.0,106.5 L161.8,106.5 L161.8,114.7 L162.7,114.7 L162.7,102.5 L163.6,102.5 L163.6,106.5 L164.5,106.5 L164.5,106.5 L165.4,106.5 L165.4,114.7 L166.3,114.7 L166.3,106.5 L167.2,106.5 L167.2,106.5 L168.1,106.5 L168.1,110.6 L169.0,110.6 L169.0,118.7 L169.9,118.7 L169.9,110.6 L170.8,110.6 L170.8,110.6 L171.7,110.6 L171.7,110.6 L172.6,110.6 L172.6,110.6 L173.5,110.6 L173.5,118.7 L174.4,118.7 L174.4,114.7 L175.3,114.7 L175.3,110.6 L176.2,110.6 L176.2,110.6 L177.1,110.6 L177.1,106.5 L178.0,106.5 L178.0,110.6 L178.9,110.6 L178.9,114.7 L179.8,114.7 L179.8,110.6 L180.7,110.6 L180.7,118.7 L181.6,118.7 L181.6,118.7 L182.5,118.7 L182.5,102.5 L183.4,102.5 L183.4,110.6 L184.3,110.6 L184.3,118.7 L185.2,118.7 L185.2,114.7 L186.1,114.7 L186.1,114.7 L187.0,114.7 L187.0,122.8 L187.9,122.8 L187.9,110.6 L188.8,110.6 L188.8,118.7 L189.7,118.7 L189.7,106.5 L190.6,106.5 L190.6,126.9 L191.5,126.9 L191.5,114.7 L192.4,114.7 L192.4,118.7 L193.3,118.7 L193.3,122.8 L194.2,122.8 L194.2,114.7 L195.1,114.7 L195.1,102.5 L196.0,102.5 L196.0,122.8 L196.9,122.8 L196.9,110.6 L197.8,110.6 L197.8,118.7 L198.7,118.7 L198.7,110.6 L199.6,110.6 L199.6,122.8 L200.5,122.8 L200.5,110.6 L201.4,110.6 L201.4,126.9 L202.3,126.9 L202.3,106.5 L203.2,106.5 L203.2,118.7 L204.1,118.7 L204.1,102.5 L205.0,102.5 L205.0,126.9 L205.9,126.9 L205.9,114.7 L206.8,114.7 L206.8,126.9 L207.6,126.9 L207.6,114.7 L208.5,114.7 L208.5,118.7 L209.4,118.7 L209.4,118.7 L210.3,118.7 L210.3,126.9 L211.2,126.9 L211.2,122.8 L212.1,122.8 L212.1,122.8 L213.0,122.8 L213.0,110.6 L213.9,110.6 L213.9,114.7 L214.8,114.7 L214.8,114.7 L215.7,114.7 L215.7,126.9 L216.6,126.9 L216.6,118.7 L217.5,118.7 L217.5,131.0 L218.4,131.0 L218.4,122.8 L219.3,122.8 L219.3,118.7 L220.2,118.7 L220.2,118.7 L221.1,118.7 L221.1,118.7 L222.0,118.7 L222.0,118.7 L222.9,118.7 L222.9,114.7 L223.8,114.7 L223.8,106.5 L224.7,106.5 L224.7,126.9 L225.6,126.9 L225.6,118.7 L226.5,118.7 L226.5,126.9 L227.4,126.9 L227.4,110.6 L228.3,110.6 L228.3,114.7 L229.2,114.7" fill="none" stroke="#c8409e" stroke-width="0.6" stroke-linejoin="miter" opacity="1.0"/>
<line x1="228.50" y1="29.60" x2="228.50" y2="112.00" stroke="#e07cc4" stroke-width="0.7"/>
<line x1="50.50" y1="29.50" x2="50.50" y2="151.30" stroke="#b05a9a" stroke-width="0.6"/>
<text x="71.20" y="75.30" font-size="8.8" text-anchor="start" textLength="38.4" lengthAdjust="spacingAndGlyphs" fill="#000">Cyclo+Thr</text>
<text x="58.80" y="96.80" font-size="8.8" text-anchor="start" textLength="39.6" lengthAdjust="spacingAndGlyphs" fill="#000">Vismo+Thr</text>
<text x="166.90" y="47.70" font-size="8.8" text-anchor="start" textLength="11.2" lengthAdjust="spacingAndGlyphs" fill="#000">RP</text>
<text x="207.90" y="60.40" font-size="8.8" text-anchor="start" textLength="11.0" lengthAdjust="spacingAndGlyphs" fill="#000">Thr</text>
<line x1="108.80" y1="78.00" x2="125.55" y2="87.00" stroke="#000" stroke-width="1.3"/>
<polygon points="130.40,89.60 123.93,88.96 126.30,84.56" fill="#000"/>
<line x1="99.60" y1="98.80" x2="112.60" y2="106.74" stroke="#000" stroke-width="1.3"/>
<polygon points="117.30,109.60 110.88,108.61 113.48,104.34" fill="#000"/>
<line x1="165.00" y1="47.90" x2="148.22" y2="57.97" stroke="#000" stroke-width="1.3"/>
<polygon points="143.50,60.80 147.36,55.57 149.93,59.86" fill="#000"/>
<line x1="205.40" y1="58.50" x2="190.87" y2="67.50" stroke="#000" stroke-width="1.3"/>
<polygon points="186.20,70.40 189.98,65.11 192.62,69.36" fill="#000"/>
<line x1="49.80" y1="239.50" x2="49.80" y2="368.20" stroke="#000" stroke-width="1.3"/>
<line x1="49.20" y1="367.60" x2="233.80" y2="367.60" stroke="#000" stroke-width="1.3"/>
<line x1="45.40" y1="367.60" x2="49.80" y2="367.60" stroke="#000" stroke-width="1.1"/>
<text x="41.20" y="371.20" font-size="10.6" text-anchor="end" textLength="6.4" lengthAdjust="spacingAndGlyphs" fill="#000">0</text>
<line x1="47.10" y1="362.72" x2="49.80" y2="362.72" stroke="#000" stroke-width="0.9"/>
<line x1="47.10" y1="357.83" x2="49.80" y2="357.83" stroke="#000" stroke-width="0.9"/>
<line x1="47.10" y1="352.95" x2="49.80" y2="352.95" stroke="#000" stroke-width="0.9"/>
<line x1="47.10" y1="348.06" x2="49.80" y2="348.06" stroke="#000" stroke-width="0.9"/>
<line x1="45.40" y1="343.18" x2="49.80" y2="343.18" stroke="#000" stroke-width="1.1"/>
<text x="41.20" y="346.78" font-size="10.6" text-anchor="end" textLength="12.7" lengthAdjust="spacingAndGlyphs" fill="#000">10</text>
<line x1="47.10" y1="338.30" x2="49.80" y2="338.30" stroke="#000" stroke-width="0.9"/>
<line x1="47.10" y1="333.41" x2="49.80" y2="333.41" stroke="#000" stroke-width="0.9"/>
<line x1="47.10" y1="328.53" x2="49.80" y2="328.53" stroke="#000" stroke-width="0.9"/>
<line x1="47.10" y1="323.64" x2="49.80" y2="323.64" stroke="#000" stroke-width="0.9"/>
<line x1="45.40" y1="318.76" x2="49.80" y2="318.76" stroke="#000" stroke-width="1.1"/>
<text x="41.20" y="322.36" font-size="10.6" text-anchor="end" textLength="12.7" lengthAdjust="spacingAndGlyphs" fill="#000">20</text>
<line x1="47.10" y1="313.88" x2="49.80" y2="313.88" stroke="#000" stroke-width="0.9"/>
<line x1="47.10" y1="308.99" x2="49.80" y2="308.99" stroke="#000" stroke-width="0.9"/>
<line x1="47.10" y1="304.11" x2="49.80" y2="304.11" stroke="#000" stroke-width="0.9"/>
<line x1="47.10" y1="299.22" x2="49.80" y2="299.22" stroke="#000" stroke-width="0.9"/>
<line x1="45.40" y1="294.34" x2="49.80" y2="294.34" stroke="#000" stroke-width="1.1"/>
<text x="41.20" y="297.94" font-size="10.6" text-anchor="end" textLength="12.7" lengthAdjust="spacingAndGlyphs" fill="#000">30</text>
<line x1="47.10" y1="289.46" x2="49.80" y2="289.46" stroke="#000" stroke-width="0.9"/>
<line x1="47.10" y1="284.57" x2="49.80" y2="284.57" stroke="#000" stroke-width="0.9"/>
<line x1="47.10" y1="279.69" x2="49.80" y2="279.69" stroke="#000" stroke-width="0.9"/>
<line x1="47.10" y1="274.80" x2="49.80" y2="274.80" stroke="#000" stroke-width="0.9"/>
<line x1="45.40" y1="269.92" x2="49.80" y2="269.92" stroke="#000" stroke-width="1.1"/>
<text x="41.20" y="273.52" font-size="10.6" text-anchor="end" textLength="12.7" lengthAdjust="spacingAndGlyphs" fill="#000">40</text>
<line x1="47.10" y1="265.04" x2="49.80" y2="265.04" stroke="#000" stroke-width="0.9"/>
<line x1="47.10" y1="260.15" x2="49.80" y2="260.15" stroke="#000" stroke-width="0.9"/>
<line x1="47.10" y1="255.27" x2="49.80" y2="255.27" stroke="#000" stroke-width="0.9"/>
<line x1="47.10" y1="250.38" x2="49.80" y2="250.38" stroke="#000" stroke-width="0.9"/>
<line x1="45.40" y1="245.50" x2="49.80" y2="245.50" stroke="#000" stroke-width="1.1"/>
<text x="41.20" y="249.10" font-size="10.6" text-anchor="end" textLength="12.7" lengthAdjust="spacingAndGlyphs" fill="#000">50</text>
<line x1="49.80" y1="367.60" x2="49.80" y2="371.60" stroke="#000" stroke-width="1.1"/>
<line x1="63.33" y1="367.60" x2="63.33" y2="370.60" stroke="#000" stroke-width="0.9"/>
<line x1="71.25" y1="367.60" x2="71.25" y2="370.60" stroke="#000" stroke-width="0.9"/>
<line x1="76.86" y1="367.60" x2="76.86" y2="370.60" stroke="#000" stroke-width="0.9"/>
<line x1="81.22" y1="367.60" x2="81.22" y2="370.60" stroke="#000" stroke-width="0.9"/>
<line x1="84.78" y1="367.60" x2="84.78" y2="370.60" stroke="#000" stroke-width="0.9"/>
<line x1="87.79" y1="367.60" x2="87.79" y2="370.60" stroke="#000" stroke-width="0.9"/>
<line x1="90.39" y1="367.60" x2="90.39" y2="370.60" stroke="#000" stroke-width="0.9"/>
<line x1="92.69" y1="367.60" x2="92.69" y2="370.60" stroke="#000" stroke-width="0.9"/>
<line x1="94.75" y1="367.60" x2="94.75" y2="371.60" stroke="#000" stroke-width="1.1"/>
<line x1="108.28" y1="367.60" x2="108.28" y2="370.60" stroke="#000" stroke-width="0.9"/>
<line x1="116.20" y1="367.60" x2="116.20" y2="370.60" stroke="#000" stroke-width="0.9"/>
<line x1="121.81" y1="367.60" x2="121.81" y2="370.60" stroke="#000" stroke-width="0.9"/>
<line x1="126.17" y1="367.60" x2="126.17" y2="370.60" stroke="#000" stroke-width="0.9"/>
<line x1="129.73" y1="367.60" x2="129.73" y2="370.60" stroke="#000" stroke-width="0.9"/>
<line x1="132.74" y1="367.60" x2="132.74" y2="370.60" stroke="#000" stroke-width="0.9"/>
<line x1="135.34" y1="367.60" x2="135.34" y2="370.60" stroke="#000" stroke-width="0.9"/>
<line x1="137.64" y1="367.60" x2="137.64" y2="370.60" stroke="#000" stroke-width="0.9"/>
<line x1="139.70" y1="367.60" x2="139.70" y2="371.60" stroke="#000" stroke-width="1.1"/>
<line x1="153.23" y1="367.60" x2="153.23" y2="370.60" stroke="#000" stroke-width="0.9"/>
<line x1="161.15" y1="367.60" x2="161.15" y2="370.60" stroke="#000" stroke-width="0.9"/>
<line x1="166.76" y1="367.60" x2="166.76" y2="370.60" stroke="#000" stroke-width="0.9"/>
<line x1="171.12" y1="367.60" x2="171.12" y2="370.60" stroke="#000" stroke-width="0.9"/>
<line x1="174.68" y1="367.60" x2="174.68" y2="370.60" stroke="#000" stroke-width="0.9"/>
<line x1="177.69" y1="367.60" x2="177.69" y2="370.60" stroke="#000" stroke-width="0.9"/>
<line x1="180.29" y1="367.60" x2="180.29" y2="370.60" stroke="#000" stroke-width="0.9"/>
<line x1="182.59" y1="367.60" x2="182.59" y2="370.60" stroke="#000" stroke-width="0.9"/>
<line x1="184.65" y1="367.60" x2="184.65" y2="371.60" stroke="#000" stroke-width="1.1"/>
<line x1="198.18" y1="367.60" x2="198.18" y2="370.60" stroke="#000" stroke-width="0.9"/>
<line x1="206.10" y1="367.60" x2="206.10" y2="370.60" stroke="#000" stroke-width="0.9"/>
<line x1="211.71" y1="367.60" x2="211.71" y2="370.60" stroke="#000" stroke-width="0.9"/>
<line x1="216.07" y1="367.60" x2="216.07" y2="370.60" stroke="#000" stroke-width="0.9"/>
<line x1="219.63" y1="367.60" x2="219.63" y2="370.60" stroke="#000" stroke-width="0.9"/>
<line x1="222.64" y1="367.60" x2="222.64" y2="370.60" stroke="#000" stroke-width="0.9"/>
<line x1="225.24" y1="367.60" x2="225.24" y2="370.60" stroke="#000" stroke-width="0.9"/>
<line x1="227.54" y1="367.60" x2="227.54" y2="370.60" stroke="#000" stroke-width="0.9"/>
<line x1="229.60" y1="367.60" x2="229.60" y2="371.60" stroke="#000" stroke-width="1.1"/>
<text x="43.80" y="383.90" font-size="10" textLength="11.0" lengthAdjust="spacingAndGlyphs">10</text>
<text x="55.40" y="379.60" font-size="6.8">0</text>
<text x="88.75" y="383.90" font-size="10" textLength="11.0" lengthAdjust="spacingAndGlyphs">10</text>
<text x="100.35" y="379.60" font-size="6.8">1</text>
<text x="133.70" y="383.90" font-size="10" textLength="11.0" lengthAdjust="spacingAndGlyphs">10</text>
<text x="145.30" y="379.60" font-size="6.8">2</text>
<text x="178.65" y="383.90" font-size="10" textLength="11.0" lengthAdjust="spacingAndGlyphs">10</text>
<text x="190.25" y="379.60" font-size="6.8">3</text>
<text x="223.60" y="383.90" font-size="10" textLength="11.0" lengthAdjust="spacingAndGlyphs">10</text>
<text x="235.20" y="379.60" font-size="6.8">4</text>
<text transform="translate(20.10,304.60) rotate(-90)" font-size="13.2" text-anchor="middle" textLength="26.6" lengthAdjust="spacingAndGlyphs" stroke="#000" stroke-width="0.45">Counts</text>
<text x="130.40" y="403.30" font-size="11.8" text-anchor="start" textLength="23.8" lengthAdjust="spacingAndGlyphs" fill="#000" stroke="#000" stroke-width="0.45">FL1-H</text>
<path d="M49.8,353.5 L50.7,353.3 L51.6,356.4 L52.5,352.1 L53.4,352.8 L54.3,357.5 L55.2,353.8 L56.1,356.9 L57.0,352.1 L57.9,352.7 L58.8,348.8 L59.7,352.1 L60.6,353.5 L61.5,357.7 L62.4,345.8 L63.3,350.1 L64.2,343.0 L65.1,350.2 L66.0,349.8 L66.9,348.3 L67.8,345.8 L68.7,350.2 L69.6,347.8 L70.5,349.3 L71.4,345.1 L72.3,346.3 L73.2,344.6 L74.1,344.5 L75.0,344.1 L75.9,344.3 L76.8,340.5 L77.7,346.7 L78.6,342.7 L79.5,342.2 L80.4,337.7 L81.3,343.0 L82.2,337.3 L83.1,342.6 L84.0,335.6 L84.9,340.8 L85.8,331.1 L86.7,331.0 L87.6,328.4 L88.5,327.5 L89.4,325.8 L90.3,327.0 L91.2,323.8 L92.1,324.5 L93.0,312.7 L93.9,320.1 L94.8,312.4 L95.6,310.8 L96.5,301.4 L97.4,319.5 L98.3,299.2 L99.2,316.3 L100.1,301.9 L101.0,307.5 L101.9,298.4 L102.8,309.0 L103.7,297.4 L104.6,302.0 L105.5,297.3 L106.4,302.4 L107.3,287.0 L108.2,293.8 L109.1,291.0 L110.0,295.1 L110.9,285.7 L111.8,294.2 L112.7,287.3 L113.6,297.1 L114.5,281.0 L115.4,294.0 L116.3,288.1 L117.2,295.8 L118.1,284.4 L119.0,292.0 L119.9,291.4 L120.8,301.1 L121.7,292.3 L122.6,303.8 L123.5,288.9 L124.4,299.3 L125.3,294.2 L126.2,307.6 L127.1,301.6 L128.0,309.1 L128.9,303.8 L129.8,317.5 L130.7,317.4 L131.6,317.9 L132.5,316.8 L133.4,328.4 L134.3,317.6 L135.2,328.3 L136.1,328.4 L137.0,333.1 L137.9,326.6 L138.8,331.2 L139.7,334.4 L140.6,336.1 L141.5,333.7 L142.4,333.5 L143.3,339.0 L144.2,349.7 L145.1,341.8 L146.0,343.3 L146.9,338.2 L147.8,341.2 L148.7,341.8 L149.6,350.6 L150.5,342.4 L151.4,349.3 L152.3,347.6 L153.2,352.3 L154.1,345.3 L155.0,355.6 L155.9,353.1 L156.8,354.4 L157.7,351.7 L158.6,356.9 L159.5,353.8 L160.4,356.4 L161.3,351.3 L162.2,356.3 L163.1,354.2 L164.0,356.6 L164.9,360.4 L165.8,363.1 L166.7,359.6 L167.6,363.3 L168.5,360.7 L169.4,362.0 L170.3,361.8 L171.2,363.3 L172.1,363.5 L173.0,363.7 L173.9,358.8 L174.8,363.8 L175.7,361.3 L176.6,362.5 L177.5,362.5 L178.4,363.4 L179.3,362.0 L180.2,364.2 L181.1,363.9 L182.0,366.8 L182.9,365.1 L183.8,366.2 L184.7,363.9 L185.5,366.7 L186.4,365.8 L187.3,366.8 L188.2,365.3 L189.1,367.4 L190.0,366.3 L190.9,367.6 L191.8,367.6 L192.7,367.6 L193.6,367.6 L194.5,367.6 L195.4,367.6 L196.3,367.6 L197.2,367.6 L198.1,367.6 L199.0,367.6 L199.9,367.6 L200.8,367.6 L201.7,367.6 L202.6,367.6 L203.5,367.6 L204.4,367.6 L205.3,367.6 L206.2,367.6 L207.1,367.6 L208.0,367.6 L208.9,367.6 L209.8,367.6 L210.7,367.6 L211.6,367.6 L212.5,367.6 L213.4,367.6 L214.3,367.6 L215.2,367.6 L216.1,367.6 L217.0,367.6 L217.9,367.6 L218.8,367.6 L219.7,367.6 L220.6,367.6 L221.5,367.6 L222.4,367.6 L223.3,367.6 L224.2,367.6 L225.1,367.6 L226.0,367.6 L226.9,367.6 L227.8,367.6 L228.7,367.6 L229.6,367.6" fill="none" stroke="#80da80" stroke-width="0.6" stroke-linejoin="miter" opacity="1.0"/>
<path d="M49.8,296.6 L50.7,306.8 L51.6,303.0 L52.5,310.1 L53.4,296.0 L54.3,318.7 L55.2,302.7 L56.1,308.7 L57.0,310.9 L57.9,319.5 L58.8,310.1 L59.7,311.7 L60.6,300.6 L61.5,309.2 L62.4,299.8 L63.3,313.8 L64.2,309.7 L65.1,319.1 L66.0,308.5 L66.9,311.2 L67.8,300.1 L68.7,314.1 L69.6,295.9 L70.5,304.5 L71.4,300.4 L72.3,307.8 L73.2,286.6 L74.1,302.3 L75.0,297.4 L75.9,302.6 L76.8,281.3 L77.7,300.1 L78.6,281.7 L79.5,285.9 L80.4,296.3 L81.3,286.1 L82.2,285.2 L83.1,293.4 L84.0,282.7 L84.9,284.3 L85.8,276.1 L86.7,282.0 L87.6,280.6 L88.5,279.5 L89.4,272.5 L90.3,280.1 L91.2,278.4 L92.1,288.4 L93.0,282.8 L93.9,297.7 L94.8,294.4 L95.6,303.3 L96.5,299.5 L97.4,309.8 L98.3,315.7 L99.2,316.5 L100.1,309.9 L101.0,329.1 L101.9,323.6 L102.8,324.7 L103.7,330.5 L104.6,339.1 L105.5,336.1 L106.4,349.1 L107.3,349.6 L108.2,356.9 L109.1,355.2 L110.0,360.0 L110.9,357.1 L111.8,359.6 L112.7,360.1 L113.6,361.2 L114.5,361.0 L115.4,364.0 L116.3,363.2 L117.2,365.9 L118.1,364.6 L119.0,366.6 L119.9,366.4 L120.8,366.6 L121.7,366.1 L122.6,367.2 L123.5,366.9 L124.4,367.6 L125.3,366.9 L126.2,367.6 L127.1,367.6 L128.0,367.6 L128.9,367.6 L129.8,367.6 L130.7,367.6 L131.6,367.6 L132.5,367.6 L133.4,367.6 L134.3,367.6 L135.2,367.6 L136.1,367.6 L137.0,367.6 L137.9,367.6 L138.8,367.6 L139.7,367.6 L140.6,367.6 L141.5,367.6 L142.4,367.6 L143.3,367.6 L144.2,367.6 L145.1,367.6 L146.0,367.6 L146.9,367.6 L147.8,367.6 L148.7,367.6 L149.6,367.6 L150.5,367.6 L151.4,367.6 L152.3,367.6 L153.2,367.6 L154.1,367.6 L155.0,367.6 L155.9,367.6 L156.8,367.6 L157.7,367.6 L158.6,367.6 L159.5,367.6 L160.4,367.6 L161.3,367.6 L162.2,367.6 L163.1,367.6 L164.0,367.6 L164.9,367.6 L165.8,367.6 L166.7,367.6 L167.6,367.6 L168.5,367.6 L169.4,367.6 L170.3,367.6 L171.2,367.6 L172.1,367.6 L173.0,367.6 L173.9,367.6 L174.8,367.6 L175.7,367.6 L176.6,367.6 L177.5,367.6 L178.4,367.6 L179.3,367.6 L180.2,367.6 L181.1,367.6 L182.0,367.6 L182.9,367.6 L183.8,367.6 L184.7,367.6 L185.5,367.6 L186.4,367.6 L187.3,367.6 L188.2,367.6 L189.1,367.6 L190.0,367.6 L190.9,367.6 L191.8,367.6 L192.7,367.6 L193.6,367.6 L194.5,367.6 L195.4,367.6 L196.3,367.6 L197.2,367.6 L198.1,367.6 L199.0,367.6 L199.9,367.6 L200.8,367.6 L201.7,367.6 L202.6,367.6 L203.5,367.6 L204.4,367.6 L205.3,367.6 L206.2,367.6 L207.1,367.6 L208.0,367.6 L208.9,367.6 L209.8,367.6 L210.7,367.6 L211.6,367.6 L212.5,367.6 L213.4,367.6 L214.3,367.6 L215.2,367.6 L216.1,367.6 L217.0,367.6 L217.9,367.6 L218.8,367.6 L219.7,367.6 L220.6,367.6 L221.5,367.6 L222.4,367.6 L223.3,367.6 L224.2,367.6 L225.1,367.6 L226.0,367.6 L226.9,367.6 L227.8,367.6 L228.7,367.6 L229.6,367.6" fill="none" stroke="#8c8c8c" stroke-width="0.6" stroke-linejoin="miter" opacity="1.0"/>
<path d="M49.8,340.1 L50.7,345.2 L51.6,340.6 L52.5,349.9 L53.4,338.0 L54.3,349.3 L55.2,334.2 L56.1,339.7 L57.0,333.5 L57.9,338.7 L58.8,333.6 L59.7,341.3 L60.6,334.1 L61.5,331.4 L62.4,330.2 L63.3,334.7 L64.2,328.2 L65.1,331.3 L66.0,322.6 L66.9,324.6 L67.8,319.3 L68.7,324.6 L69.6,317.2 L70.5,318.7 L71.4,318.3 L72.3,316.4 L73.2,304.1 L74.1,318.7 L75.0,303.4 L75.9,295.9 L76.8,304.0 L77.7,314.2 L78.6,296.1 L79.5,290.9 L80.4,280.3 L81.3,303.5 L82.2,281.8 L83.1,292.6 L84.0,284.7 L84.9,296.1 L85.8,270.9 L86.7,286.4 L87.6,270.9 L88.5,279.4 L89.4,263.5 L90.3,274.8 L91.2,279.9 L92.1,283.3 L93.0,269.6 L93.9,290.8 L94.8,274.7 L95.6,283.2 L96.5,281.7 L97.4,293.1 L98.3,286.9 L99.2,289.1 L100.1,287.5 L101.0,289.5 L101.9,285.3 L102.8,296.4 L103.7,290.8 L104.6,298.2 L105.5,298.7 L106.4,309.5 L107.3,298.3 L108.2,307.4 L109.1,296.1 L110.0,315.0 L110.9,311.7 L111.8,324.9 L112.7,330.8 L113.6,328.5 L114.5,317.4 L115.4,328.5 L116.3,329.2 L117.2,325.8 L118.1,325.8 L119.0,332.4 L119.9,326.8 L120.8,333.3 L121.7,326.9 L122.6,341.8 L123.5,332.2 L124.4,337.8 L125.3,328.3 L126.2,341.5 L127.1,329.0 L128.0,339.6 L128.9,332.3 L129.8,345.6 L130.7,336.3 L131.6,344.2 L132.5,345.1 L133.4,347.6 L134.3,343.6 L135.2,351.9 L136.1,347.9 L137.0,354.8 L137.9,348.3 L138.8,351.5 L139.7,351.1 L140.6,357.6 L141.5,349.4 L142.4,357.5 L143.3,353.0 L144.2,357.5 L145.1,356.2 L146.0,357.1 L146.9,355.9 L147.8,359.0 L148.7,358.7 L149.6,363.1 L150.5,357.3 L151.4,356.9 L152.3,358.0 L153.2,358.1 L154.1,358.0 L155.0,360.3 L155.9,360.2 L156.8,362.8 L157.7,357.6 L158.6,360.9 L159.5,361.6 L160.4,363.8 L161.3,359.7 L162.2,364.8 L163.1,361.2 L164.0,366.0 L164.9,362.4 L165.8,364.0 L166.7,363.5 L167.6,365.5 L168.5,364.6 L169.4,366.3 L170.3,365.6 L171.2,366.2 L172.1,365.4 L173.0,366.9 L173.9,367.2 L174.8,367.6 L175.7,367.6 L176.6,367.6 L177.5,367.6 L178.4,367.6 L179.3,367.6 L180.2,367.6 L181.1,367.6 L182.0,367.6 L182.9,367.6 L183.8,367.6 L184.7,367.6 L185.5,367.6 L186.4,367.6 L187.3,367.6 L188.2,367.6 L189.1,367.6 L190.0,367.6 L190.9,367.6 L191.8,367.6 L192.7,367.6 L193.6,367.6 L194.5,367.6 L195.4,367.6 L196.3,367.6 L197.2,367.6 L198.1,367.6 L199.0,367.6 L199.9,367.6 L200.8,367.6 L201.7,367.6 L202.6,367.6 L203.5,367.6 L204.4,367.6 L205.3,367.6 L206.2,367.6 L207.1,367.6 L208.0,367.6 L208.9,367.6 L209.8,367.6 L210.7,367.6 L211.6,367.6 L212.5,367.6 L213.4,367.6 L214.3,367.6 L215.2,367.6 L216.1,367.6 L217.0,367.6 L217.9,367.6 L218.8,367.6 L219.7,367.6 L220.6,367.6 L221.5,367.6 L222.4,367.6 L223.3,367.6 L224.2,367.6 L225.1,367.6 L226.0,367.6 L226.9,367.6 L227.8,367.6 L228.7,367.6 L229.6,367.6" fill="none" stroke="#d662a8" stroke-width="0.6" stroke-linejoin="miter" opacity="1.0"/>
<path d="M49.8,345.2 L50.7,352.1 L51.6,351.1 L52.5,352.5 L53.4,347.7 L54.3,351.2 L55.2,345.0 L56.1,352.4 L57.0,342.6 L57.9,352.5 L58.8,345.2 L59.7,344.8 L60.6,340.1 L61.5,349.5 L62.4,337.9 L63.3,346.0 L64.2,343.3 L65.1,344.6 L66.0,338.6 L66.9,340.1 L67.8,337.7 L68.7,334.6 L69.6,336.9 L70.5,330.7 L71.4,325.4 L72.3,325.0 L73.2,326.6 L74.1,333.5 L75.0,323.3 L75.9,322.3 L76.8,305.4 L77.7,316.0 L78.6,304.5 L79.5,318.2 L80.4,304.7 L81.3,311.7 L82.2,292.1 L83.1,307.2 L84.0,296.3 L84.9,292.4 L85.8,289.9 L86.7,292.1 L87.6,286.9 L88.5,287.1 L89.4,269.0 L90.3,275.9 L91.2,278.2 L92.1,291.3 L93.0,262.6 L93.9,268.4 L94.8,267.1 L95.6,272.8 L96.5,264.0 L97.4,283.2 L98.3,275.0 L99.2,265.3 L100.1,258.7 L101.0,281.3 L101.9,271.9 L102.8,290.2 L103.7,284.8 L104.6,298.3 L105.5,281.7 L106.4,298.1 L107.3,293.1 L108.2,304.5 L109.1,294.2 L110.0,307.2 L110.9,299.0 L111.8,313.2 L112.7,303.1 L113.6,315.3 L114.5,305.0 L115.4,322.2 L116.3,314.2 L117.2,327.1 L118.1,310.6 L119.0,326.8 L119.9,320.9 L120.8,331.9 L121.7,326.0 L122.6,336.4 L123.5,326.7 L124.4,334.4 L125.3,323.0 L126.2,339.0 L127.1,326.9 L128.0,336.9 L128.9,332.1 L129.8,341.4 L130.7,335.7 L131.6,342.0 L132.5,342.0 L133.4,342.6 L134.3,346.2 L135.2,348.3 L136.1,344.6 L137.0,348.8 L137.9,348.5 L138.8,347.7 L139.7,349.1 L140.6,353.0 L141.5,350.3 L142.4,354.8 L143.3,349.5 L144.2,348.5 L145.1,357.1 L146.0,354.2 L146.9,353.1 L147.8,355.2 L148.7,355.9 L149.6,359.6 L150.5,355.0 L151.4,361.6 L152.3,360.2 L153.2,362.9 L154.1,361.3 L155.0,361.4 L155.9,363.7 L156.8,363.5 L157.7,365.4 L158.6,364.7 L159.5,363.7 L160.4,364.0 L161.3,362.9 L162.2,365.0 L163.1,364.0 L164.0,366.1 L164.9,366.9 L165.8,366.6 L166.7,366.4 L167.6,366.4 L168.5,366.4 L169.4,367.3 L170.3,366.9 L171.2,367.2 L172.1,366.7 L173.0,367.4 L173.9,367.6 L174.8,367.3 L175.7,367.6 L176.6,367.6 L177.5,367.6 L178.4,367.6 L179.3,367.6 L180.2,367.6 L181.1,367.6 L182.0,367.6 L182.9,367.6 L183.8,367.6 L184.7,367.6 L185.5,367.6 L186.4,367.6 L187.3,367.6 L188.2,367.6 L189.1,367.6 L190.0,367.6 L190.9,367.6 L191.8,367.6 L192.7,367.6 L193.6,367.6 L194.5,367.6 L195.4,367.6 L196.3,367.6 L197.2,367.6 L198.1,367.6 L199.0,367.6 L199.9,367.6 L200.8,367.6 L201.7,367.6 L202.6,367.6 L203.5,367.6 L204.4,367.6 L205.3,367.6 L206.2,367.6 L207.1,367.6 L208.0,367.6 L208.9,367.6 L209.8,367.6 L210.7,367.6 L211.6,367.6 L212.5,367.6 L213.4,367.6 L214.3,367.6 L215.2,367.6 L216.1,367.6 L217.0,367.6 L217.9,367.6 L218.8,367.6 L219.7,367.6 L220.6,367.6 L221.5,367.6 L222.4,367.6 L223.3,367.6 L224.2,367.6 L225.1,367.6 L226.0,367.6 L226.9,367.6 L227.8,367.6 L228.7,367.6 L229.6,367.6" fill="none" stroke="#6cbde6" stroke-width="0.6" stroke-linejoin="miter" opacity="1.0"/>
<text x="56.00" y="269.20" font-size="8.3" text-anchor="start" textLength="11.0" lengthAdjust="spacingAndGlyphs" fill="#000">RP</text>
<text x="144.40" y="281.60" font-size="8.3" text-anchor="start" textLength="12.0" lengthAdjust="spacingAndGlyphs" fill="#000">Thr</text>
<text x="133.70" y="305.60" font-size="8.3" text-anchor="start" textLength="39.0" lengthAdjust="spacingAndGlyphs" fill="#000">Cyclo+Thr</text>
<text x="141.70" y="323.30" font-size="8.3" text-anchor="start" textLength="40.3" lengthAdjust="spacingAndGlyphs" fill="#000">Vismo+Thr</text>
<line x1="61.00" y1="271.00" x2="67.43" y2="285.95" stroke="#000" stroke-width="1.3"/>
<polygon points="69.60,291.00 64.93,286.48 69.53,284.50" fill="#000"/>
<line x1="142.50" y1="281.70" x2="126.64" y2="291.75" stroke="#000" stroke-width="1.3"/>
<polygon points="122.00,294.70 125.73,289.38 128.41,293.60" fill="#000"/>
<line x1="133.00" y1="306.00" x2="117.90" y2="313.70" stroke="#000" stroke-width="1.3"/>
<polygon points="113.00,316.20 117.21,311.25 119.48,315.70" fill="#000"/>
<line x1="140.00" y1="322.00" x2="123.04" y2="332.01" stroke="#000" stroke-width="1.3"/>
<polygon points="118.30,334.80 122.20,329.60 124.74,333.90" fill="#000"/>
<line x1="49.70" y1="461.00" x2="49.70" y2="588.80" stroke="#000" stroke-width="1.3"/>
<line x1="49.10" y1="588.20" x2="234.60" y2="588.20" stroke="#000" stroke-width="1.3"/>
<line x1="45.30" y1="588.20" x2="49.70" y2="588.20" stroke="#000" stroke-width="1.1"/>
<text x="41.10" y="591.80" font-size="10.6" text-anchor="end" textLength="6.4" lengthAdjust="spacingAndGlyphs" fill="#000">0</text>
<line x1="47.00" y1="582.79" x2="49.70" y2="582.79" stroke="#000" stroke-width="0.9"/>
<line x1="47.00" y1="577.38" x2="49.70" y2="577.38" stroke="#000" stroke-width="0.9"/>
<line x1="47.00" y1="571.97" x2="49.70" y2="571.97" stroke="#000" stroke-width="0.9"/>
<line x1="47.00" y1="566.56" x2="49.70" y2="566.56" stroke="#000" stroke-width="0.9"/>
<line x1="45.30" y1="561.15" x2="49.70" y2="561.15" stroke="#000" stroke-width="1.1"/>
<text x="41.10" y="564.75" font-size="10.6" text-anchor="end" textLength="12.7" lengthAdjust="spacingAndGlyphs" fill="#000">10</text>
<line x1="47.00" y1="555.74" x2="49.70" y2="555.74" stroke="#000" stroke-width="0.9"/>
<line x1="47.00" y1="550.33" x2="49.70" y2="550.33" stroke="#000" stroke-width="0.9"/>
<line x1="47.00" y1="544.92" x2="49.70" y2="544.92" stroke="#000" stroke-width="0.9"/>
<line x1="47.00" y1="539.51" x2="49.70" y2="539.51" stroke="#000" stroke-width="0.9"/>
<line x1="45.30" y1="534.10" x2="49.70" y2="534.10" stroke="#000" stroke-width="1.1"/>
<text x="41.10" y="537.70" font-size="10.6" text-anchor="end" textLength="12.7" lengthAdjust="spacingAndGlyphs" fill="#000">20</text>
<line x1="47.00" y1="528.69" x2="49.70" y2="528.69" stroke="#000" stroke-width="0.9"/>
<line x1="47.00" y1="523.28" x2="49.70" y2="523.28" stroke="#000" stroke-width="0.9"/>
<line x1="47.00" y1="517.87" x2="49.70" y2="517.87" stroke="#000" stroke-width="0.9"/>
<line x1="47.00" y1="512.46" x2="49.70" y2="512.46" stroke="#000" stroke-width="0.9"/>
<line x1="45.30" y1="507.05" x2="49.70" y2="507.05" stroke="#000" stroke-width="1.1"/>
<text x="41.10" y="510.65" font-size="10.6" text-anchor="end" textLength="12.7" lengthAdjust="spacingAndGlyphs" fill="#000">30</text>
<line x1="47.00" y1="501.64" x2="49.70" y2="501.64" stroke="#000" stroke-width="0.9"/>
<line x1="47.00" y1="496.23" x2="49.70" y2="496.23" stroke="#000" stroke-width="0.9"/>
<line x1="47.00" y1="490.82" x2="49.70" y2="490.82" stroke="#000" stroke-width="0.9"/>
<line x1="47.00" y1="485.41" x2="49.70" y2="485.41" stroke="#000" stroke-width="0.9"/>
<line x1="45.30" y1="480.00" x2="49.70" y2="480.00" stroke="#000" stroke-width="1.1"/>
<text x="41.10" y="483.60" font-size="10.6" text-anchor="end" textLength="12.7" lengthAdjust="spacingAndGlyphs" fill="#000">40</text>
<line x1="49.70" y1="588.20" x2="49.70" y2="592.20" stroke="#000" stroke-width="1.1"/>
<line x1="63.22" y1="588.20" x2="63.22" y2="591.20" stroke="#000" stroke-width="0.9"/>
<line x1="71.12" y1="588.20" x2="71.12" y2="591.20" stroke="#000" stroke-width="0.9"/>
<line x1="76.73" y1="588.20" x2="76.73" y2="591.20" stroke="#000" stroke-width="0.9"/>
<line x1="81.08" y1="588.20" x2="81.08" y2="591.20" stroke="#000" stroke-width="0.9"/>
<line x1="84.64" y1="588.20" x2="84.64" y2="591.20" stroke="#000" stroke-width="0.9"/>
<line x1="87.64" y1="588.20" x2="87.64" y2="591.20" stroke="#000" stroke-width="0.9"/>
<line x1="90.25" y1="588.20" x2="90.25" y2="591.20" stroke="#000" stroke-width="0.9"/>
<line x1="92.55" y1="588.20" x2="92.55" y2="591.20" stroke="#000" stroke-width="0.9"/>
<line x1="94.60" y1="588.20" x2="94.60" y2="592.20" stroke="#000" stroke-width="1.1"/>
<line x1="108.12" y1="588.20" x2="108.12" y2="591.20" stroke="#000" stroke-width="0.9"/>
<line x1="116.02" y1="588.20" x2="116.02" y2="591.20" stroke="#000" stroke-width="0.9"/>
<line x1="121.63" y1="588.20" x2="121.63" y2="591.20" stroke="#000" stroke-width="0.9"/>
<line x1="125.98" y1="588.20" x2="125.98" y2="591.20" stroke="#000" stroke-width="0.9"/>
<line x1="129.54" y1="588.20" x2="129.54" y2="591.20" stroke="#000" stroke-width="0.9"/>
<line x1="132.54" y1="588.20" x2="132.54" y2="591.20" stroke="#000" stroke-width="0.9"/>
<line x1="135.15" y1="588.20" x2="135.15" y2="591.20" stroke="#000" stroke-width="0.9"/>
<line x1="137.45" y1="588.20" x2="137.45" y2="591.20" stroke="#000" stroke-width="0.9"/>
<line x1="139.50" y1="588.20" x2="139.50" y2="592.20" stroke="#000" stroke-width="1.1"/>
<line x1="153.02" y1="588.20" x2="153.02" y2="591.20" stroke="#000" stroke-width="0.9"/>
<line x1="160.92" y1="588.20" x2="160.92" y2="591.20" stroke="#000" stroke-width="0.9"/>
<line x1="166.53" y1="588.20" x2="166.53" y2="591.20" stroke="#000" stroke-width="0.9"/>
<line x1="170.88" y1="588.20" x2="170.88" y2="591.20" stroke="#000" stroke-width="0.9"/>
<line x1="174.44" y1="588.20" x2="174.44" y2="591.20" stroke="#000" stroke-width="0.9"/>
<line x1="177.44" y1="588.20" x2="177.44" y2="591.20" stroke="#000" stroke-width="0.9"/>
<line x1="180.05" y1="588.20" x2="180.05" y2="591.20" stroke="#000" stroke-width="0.9"/>
<line x1="182.35" y1="588.20" x2="182.35" y2="591.20" stroke="#000" stroke-width="0.9"/>
<line x1="184.40" y1="588.20" x2="184.40" y2="592.20" stroke="#000" stroke-width="1.1"/>
<line x1="197.92" y1="588.20" x2="197.92" y2="591.20" stroke="#000" stroke-width="0.9"/>
<line x1="205.82" y1="588.20" x2="205.82" y2="591.20" stroke="#000" stroke-width="0.9"/>
<line x1="211.43" y1="588.20" x2="211.43" y2="591.20" stroke="#000" stroke-width="0.9"/>
<line x1="215.78" y1="588.20" x2="215.78" y2="591.20" stroke="#000" stroke-width="0.9"/>
<line x1="219.34" y1="588.20" x2="219.34" y2="591.20" stroke="#000" stroke-width="0.9"/>
<line x1="222.34" y1="588.20" x2="222.34" y2="591.20" stroke="#000" stroke-width="0.9"/>
<line x1="224.95" y1="588.20" x2="224.95" y2="591.20" stroke="#000" stroke-width="0.9"/>
<line x1="227.25" y1="588.20" x2="227.25" y2="591.20" stroke="#000" stroke-width="0.9"/>
<line x1="229.30" y1="588.20" x2="229.30" y2="592.20" stroke="#000" stroke-width="1.1"/>
<text x="43.70" y="604.50" font-size="10" textLength="11.0" lengthAdjust="spacingAndGlyphs">10</text>
<text x="55.30" y="600.20" font-size="6.8">0</text>
<text x="88.60" y="604.50" font-size="10" textLength="11.0" lengthAdjust="spacingAndGlyphs">10</text>
<text x="100.20" y="600.20" font-size="6.8">1</text>
<text x="133.50" y="604.50" font-size="10" textLength="11.0" lengthAdjust="spacingAndGlyphs">10</text>
<text x="145.10" y="600.20" font-size="6.8">2</text>
<text x="178.40" y="604.50" font-size="10" textLength="11.0" lengthAdjust="spacingAndGlyphs">10</text>
<text x="190.00" y="600.20" font-size="6.8">3</text>
<text x="223.30" y="604.50" font-size="10" textLength="11.0" lengthAdjust="spacingAndGlyphs">10</text>
<text x="234.90" y="600.20" font-size="6.8">4</text>
<text transform="translate(20.10,525.70) rotate(-90)" font-size="13.2" text-anchor="middle" textLength="26.6" lengthAdjust="spacingAndGlyphs" stroke="#000" stroke-width="0.45">Counts</text>
<text x="130.40" y="624.00" font-size="11.8" text-anchor="start" textLength="23.8" lengthAdjust="spacingAndGlyphs" fill="#000" stroke="#000" stroke-width="0.45">FL2-H</text>
<path d="M49.7,585.2 L50.6,586.4 L51.5,584.1 L52.4,586.8 L53.3,583.6 L54.2,586.0 L55.1,584.0 L56.0,585.7 L56.9,583.4 L57.8,587.2 L58.7,582.4 L59.6,585.3 L60.5,584.9 L61.4,585.6 L62.3,584.3 L63.2,588.0 L64.1,584.0 L65.0,586.6 L65.9,584.3 L66.8,586.8 L67.7,585.0 L68.6,586.1 L69.5,584.3 L70.4,587.8 L71.3,584.7 L72.2,587.5 L73.0,585.6 L73.9,585.9 L74.8,583.7 L75.7,585.0 L76.6,584.4 L77.5,586.6 L78.4,584.7 L79.3,585.7 L80.2,582.9 L81.1,586.2 L82.0,582.8 L82.9,585.5 L83.8,582.2 L84.7,587.6 L85.6,586.1 L86.5,586.0 L87.4,582.2 L88.3,585.9 L89.2,582.8 L90.1,585.9 L91.0,584.3 L91.9,585.3 L92.8,581.4 L93.7,583.3 L94.6,583.4 L95.5,584.4 L96.4,583.0 L97.3,584.3 L98.2,583.5 L99.1,583.9 L100.0,582.0 L100.9,584.2 L101.8,581.7 L102.7,584.4 L103.6,580.4 L104.5,583.7 L105.4,580.9 L106.3,584.1 L107.2,579.6 L108.1,583.9 L109.0,578.1 L109.9,580.5 L110.8,579.4 L111.7,579.7 L112.6,575.5 L113.5,580.4 L114.4,580.1 L115.3,583.8 L116.2,577.9 L117.0,576.8 L117.9,576.1 L118.8,577.3 L119.7,576.8 L120.6,579.6 L121.5,574.6 L122.4,580.6 L123.3,574.7 L124.2,575.4 L125.1,573.8 L126.0,576.1 L126.9,573.7 L127.8,575.1 L128.7,571.2 L129.6,578.4 L130.5,572.7 L131.4,575.6 L132.3,567.8 L133.2,573.3 L134.1,569.5 L135.0,573.0 L135.9,566.9 L136.8,569.8 L137.7,568.8 L138.6,574.8 L139.5,565.2 L140.4,572.6 L141.3,567.2 L142.2,569.9 L143.1,565.5 L144.0,570.8 L144.9,556.4 L145.8,557.2 L146.7,552.9 L147.6,557.2 L148.5,550.5 L149.4,556.0 L150.3,546.4 L151.2,551.5 L152.1,543.4 L153.0,544.7 L153.9,533.0 L154.8,549.3 L155.7,532.0 L156.6,534.9 L157.5,534.9 L158.4,531.2 L159.3,524.7 L160.2,532.9 L161.1,524.1 L161.9,531.2 L162.8,508.4 L163.7,512.0 L164.6,505.6 L165.5,520.5 L166.4,508.9 L167.3,513.8 L168.2,508.5 L169.1,516.7 L170.0,499.3 L170.9,512.1 L171.8,510.6 L172.7,513.5 L173.6,498.0 L174.5,507.9 L175.4,501.2 L176.3,499.6 L177.2,496.2 L178.1,510.6 L179.0,498.3 L179.9,492.5 L180.8,501.4 L181.7,492.6 L182.6,485.3 L183.5,506.0 L184.4,495.6 L185.3,493.0 L186.2,492.8 L187.1,502.3 L188.0,481.3 L188.9,502.9 L189.8,491.0 L190.7,503.8 L191.6,495.1 L192.5,506.6 L193.4,500.4 L194.3,504.8 L195.2,496.1 L196.1,506.2 L197.0,499.2 L197.9,508.8 L198.8,507.9 L199.7,525.6 L200.6,514.2 L201.5,537.4 L202.4,530.8 L203.3,538.0 L204.2,545.5 L205.1,544.7 L206.0,556.1 L206.9,566.1 L207.7,560.3 L208.6,567.6 L209.5,564.0 L210.4,571.0 L211.3,567.8 L212.2,574.6 L213.1,572.0 L214.0,579.5 L214.9,573.4 L215.8,580.2 L216.7,581.0 L217.6,579.1 L218.5,581.7 L219.4,585.0 L220.3,583.9 L221.2,585.1 L222.1,586.1 L223.0,587.7 L223.9,588.2 L224.8,588.2 L225.7,588.2 L226.6,588.2 L227.5,588.2 L228.4,588.2 L229.3,588.2" fill="none" stroke="#74d674" stroke-width="0.6" stroke-linejoin="miter" opacity="1.0"/>
<path d="M49.7,584.0 L50.6,585.6 L51.5,584.9 L52.4,585.6 L53.3,585.4 L54.2,588.1 L55.1,583.3 L56.0,585.4 L56.9,586.5 L57.8,586.9 L58.7,584.9 L59.6,585.5 L60.5,582.8 L61.4,585.5 L62.3,584.6 L63.2,585.2 L64.1,584.3 L65.0,585.4 L65.9,584.5 L66.8,587.3 L67.7,582.5 L68.6,585.8 L69.5,584.3 L70.4,586.3 L71.3,584.9 L72.2,586.1 L73.0,583.4 L73.9,584.3 L74.8,583.6 L75.7,586.1 L76.6,581.2 L77.5,585.2 L78.4,582.8 L79.3,586.3 L80.2,584.5 L81.1,584.8 L82.0,585.4 L82.9,585.8 L83.8,583.3 L84.7,582.0 L85.6,582.1 L86.5,586.3 L87.4,584.3 L88.3,583.5 L89.2,583.0 L90.1,585.1 L91.0,578.9 L91.9,584.0 L92.8,581.6 L93.7,584.3 L94.6,579.8 L95.5,581.3 L96.4,581.9 L97.3,584.7 L98.2,580.9 L99.1,580.0 L100.0,579.3 L100.9,583.4 L101.8,578.9 L102.7,579.9 L103.6,577.6 L104.5,579.9 L105.4,577.7 L106.3,581.8 L107.2,577.8 L108.1,583.0 L109.0,578.7 L109.9,581.7 L110.8,575.6 L111.7,578.2 L112.6,573.9 L113.5,576.1 L114.4,573.2 L115.3,576.7 L116.2,569.9 L117.0,575.6 L117.9,570.4 L118.8,577.5 L119.7,568.9 L120.6,571.4 L121.5,568.5 L122.4,572.1 L123.3,570.2 L124.2,570.6 L125.1,560.5 L126.0,569.3 L126.9,559.8 L127.8,568.4 L128.7,557.8 L129.6,567.1 L130.5,556.2 L131.4,561.3 L132.3,553.4 L133.2,564.5 L134.1,556.4 L135.0,561.2 L135.9,552.6 L136.8,557.3 L137.7,549.7 L138.6,550.5 L139.5,549.6 L140.4,551.1 L141.3,543.3 L142.2,547.2 L143.1,539.0 L144.0,540.2 L144.9,536.2 L145.8,530.4 L146.7,527.8 L147.6,528.5 L148.5,527.6 L149.4,530.4 L150.3,519.8 L151.2,517.8 L152.1,515.2 L153.0,515.6 L153.9,514.7 L154.8,513.3 L155.7,510.8 L156.6,525.3 L157.5,514.4 L158.4,509.7 L159.3,498.8 L160.2,502.1 L161.1,494.8 L161.9,494.7 L162.8,475.6 L163.7,495.8 L164.6,481.7 L165.5,496.1 L166.4,497.1 L167.3,502.0 L168.2,483.5 L169.1,507.2 L170.0,481.0 L170.9,503.7 L171.8,494.5 L172.7,506.1 L173.6,500.4 L174.5,514.6 L175.4,499.5 L176.3,520.9 L177.2,509.6 L178.1,529.2 L179.0,516.5 L179.9,512.8 L180.8,515.6 L181.7,535.7 L182.6,535.2 L183.5,533.2 L184.4,527.9 L185.3,543.4 L186.2,532.4 L187.1,544.3 L188.0,540.4 L188.9,549.4 L189.8,542.7 L190.7,556.3 L191.6,552.4 L192.5,553.8 L193.4,554.1 L194.3,562.6 L195.2,555.5 L196.1,564.9 L197.0,558.5 L197.9,556.3 L198.8,556.9 L199.7,569.7 L200.6,567.6 L201.5,571.4 L202.4,571.1 L203.3,572.6 L204.2,569.0 L205.1,573.5 L206.0,572.3 L206.9,580.6 L207.7,576.2 L208.6,579.4 L209.5,577.0 L210.4,580.3 L211.3,581.5 L212.2,582.7 L213.1,582.1 L214.0,585.0 L214.9,581.6 L215.8,585.5 L216.7,581.4 L217.6,588.2 L218.5,583.2 L219.4,586.7 L220.3,586.8 L221.2,587.1 L222.1,586.4 L223.0,587.2 L223.9,587.1 L224.8,588.2 L225.7,588.2 L226.6,588.2 L227.5,588.2 L228.4,588.2 L229.3,588.2" fill="none" stroke="#777" stroke-width="0.6" stroke-linejoin="miter" opacity="1.0"/>
<path d="M49.7,584.6 L50.6,587.1 L51.5,583.8 L52.4,586.4 L53.3,586.2 L54.2,585.5 L55.1,584.4 L56.0,585.6 L56.9,582.9 L57.8,585.5 L58.7,585.4 L59.6,586.4 L60.5,583.3 L61.4,587.1 L62.3,583.8 L63.2,586.0 L64.1,585.1 L65.0,586.1 L65.9,583.5 L66.8,587.0 L67.7,584.9 L68.6,585.5 L69.5,585.3 L70.4,586.8 L71.3,583.1 L72.2,585.9 L73.0,585.9 L73.9,585.5 L74.8,582.0 L75.7,587.7 L76.6,583.0 L77.5,584.8 L78.4,584.2 L79.3,584.9 L80.2,584.1 L81.1,583.5 L82.0,581.8 L82.9,586.7 L83.8,583.1 L84.7,584.5 L85.6,583.8 L86.5,583.9 L87.4,584.0 L88.3,583.7 L89.2,583.0 L90.1,584.9 L91.0,581.8 L91.9,582.5 L92.8,582.7 L93.7,582.6 L94.6,579.9 L95.5,583.0 L96.4,578.7 L97.3,584.1 L98.2,581.5 L99.1,581.7 L100.0,580.6 L100.9,579.7 L101.8,578.6 L102.7,578.2 L103.6,580.1 L104.5,583.1 L105.4,575.9 L106.3,582.3 L107.2,575.6 L108.1,581.0 L109.0,575.5 L109.9,577.2 L110.8,576.9 L111.7,580.4 L112.6,576.1 L113.5,574.3 L114.4,572.7 L115.3,574.2 L116.2,571.0 L117.0,574.4 L117.9,570.8 L118.8,575.0 L119.7,567.5 L120.6,571.2 L121.5,572.4 L122.4,570.0 L123.3,561.9 L124.2,563.1 L125.1,566.8 L126.0,567.4 L126.9,560.3 L127.8,564.4 L128.7,562.0 L129.6,563.2 L130.5,559.5 L131.4,562.4 L132.3,558.3 L133.2,558.6 L134.1,555.3 L135.0,557.6 L135.9,550.4 L136.8,553.7 L137.7,542.9 L138.6,553.8 L139.5,549.4 L140.4,553.1 L141.3,545.3 L142.2,554.7 L143.1,539.3 L144.0,547.7 L144.9,533.6 L145.8,541.5 L146.7,531.1 L147.6,536.5 L148.5,531.6 L149.4,536.7 L150.3,528.8 L151.2,533.3 L152.1,520.9 L153.0,531.9 L153.9,521.0 L154.8,529.7 L155.7,510.5 L156.6,523.4 L157.5,513.3 L158.4,526.6 L159.3,511.7 L160.2,524.5 L161.1,512.1 L161.9,526.1 L162.8,516.0 L163.7,518.0 L164.6,504.9 L165.5,526.1 L166.4,508.5 L167.3,517.9 L168.2,496.0 L169.1,525.8 L170.0,516.2 L170.9,524.7 L171.8,508.8 L172.7,514.0 L173.6,511.8 L174.5,512.4 L175.4,503.2 L176.3,523.1 L177.2,507.0 L178.1,521.7 L179.0,513.4 L179.9,521.4 L180.8,514.0 L181.7,527.3 L182.6,512.9 L183.5,515.1 L184.4,519.2 L185.3,523.9 L186.2,517.4 L187.1,519.8 L188.0,513.7 L188.9,518.8 L189.8,520.7 L190.7,534.5 L191.6,520.0 L192.5,533.3 L193.4,523.6 L194.3,534.7 L195.2,542.6 L196.1,548.7 L197.0,538.1 L197.9,550.3 L198.8,551.8 L199.7,552.1 L200.6,542.9 L201.5,553.7 L202.4,556.5 L203.3,559.6 L204.2,554.2 L205.1,564.8 L206.0,556.4 L206.9,571.2 L207.7,561.1 L208.6,568.6 L209.5,567.4 L210.4,575.3 L211.3,573.0 L212.2,578.6 L213.1,572.6 L214.0,577.3 L214.9,576.1 L215.8,581.3 L216.7,580.1 L217.6,585.3 L218.5,583.2 L219.4,587.2 L220.3,583.3 L221.2,586.9 L222.1,584.4 L223.0,587.7 L223.9,586.3 L224.8,588.2 L225.7,588.2 L226.6,588.2 L227.5,588.2 L228.4,588.2 L229.3,588.2" fill="none" stroke="#5252c4" stroke-width="0.6" stroke-linejoin="miter" opacity="1.0"/>
<path d="M49.7,584.6 L50.6,587.7 L51.5,582.2 L52.4,585.7 L53.3,583.8 L54.2,586.5 L55.1,584.8 L56.0,585.6 L56.9,584.1 L57.8,586.4 L58.7,583.9 L59.6,585.5 L60.5,584.7 L61.4,587.2 L62.3,585.3 L63.2,587.4 L64.1,584.3 L65.0,586.6 L65.9,583.7 L66.8,586.4 L67.7,583.4 L68.6,586.3 L69.5,584.3 L70.4,584.9 L71.3,583.8 L72.2,584.8 L73.0,583.2 L73.9,585.7 L74.8,584.6 L75.7,585.5 L76.6,582.7 L77.5,586.2 L78.4,583.6 L79.3,586.3 L80.2,584.5 L81.1,586.6 L82.0,584.3 L82.9,585.4 L83.8,582.5 L84.7,587.0 L85.6,583.7 L86.5,584.8 L87.4,583.5 L88.3,583.4 L89.2,582.8 L90.1,583.2 L91.0,580.5 L91.9,583.7 L92.8,582.3 L93.7,581.5 L94.6,581.3 L95.5,582.5 L96.4,582.3 L97.3,583.7 L98.2,579.5 L99.1,584.3 L100.0,579.3 L100.9,579.4 L101.8,581.4 L102.7,582.1 L103.6,577.0 L104.5,581.3 L105.4,576.6 L106.3,579.5 L107.2,580.0 L108.1,585.1 L109.0,577.6 L109.9,578.0 L110.8,578.5 L111.7,576.4 L112.6,578.5 L113.5,575.4 L114.4,573.8 L115.3,576.4 L116.2,571.5 L117.0,576.6 L117.9,570.9 L118.8,575.1 L119.7,566.6 L120.6,575.9 L121.5,564.9 L122.4,573.7 L123.3,568.2 L124.2,567.5 L125.1,563.8 L126.0,568.7 L126.9,557.9 L127.8,567.4 L128.7,558.5 L129.6,562.9 L130.5,554.6 L131.4,565.7 L132.3,557.3 L133.2,563.6 L134.1,558.1 L135.0,564.6 L135.9,554.5 L136.8,559.4 L137.7,553.6 L138.6,556.9 L139.5,554.4 L140.4,549.5 L141.3,545.6 L142.2,552.6 L143.1,542.7 L144.0,549.3 L144.9,542.4 L145.8,546.5 L146.7,539.3 L147.6,543.4 L148.5,527.4 L149.4,538.5 L150.3,524.8 L151.2,535.7 L152.1,521.6 L153.0,538.1 L153.9,528.2 L154.8,537.1 L155.7,535.7 L156.6,529.1 L157.5,520.6 L158.4,530.7 L159.3,521.2 L160.2,525.0 L161.1,525.1 L161.9,525.1 L162.8,516.7 L163.7,523.1 L164.6,510.1 L165.5,525.3 L166.4,519.6 L167.3,521.2 L168.2,518.2 L169.1,522.7 L170.0,521.1 L170.9,525.0 L171.8,517.4 L172.7,526.1 L173.6,514.9 L174.5,516.4 L175.4,516.8 L176.3,527.2 L177.2,520.4 L178.1,520.2 L179.0,517.9 L179.9,522.2 L180.8,516.6 L181.7,520.0 L182.6,518.6 L183.5,518.3 L184.4,513.5 L185.3,521.3 L186.2,507.0 L187.1,531.9 L188.0,507.0 L188.9,511.5 L189.8,517.9 L190.7,531.2 L191.6,519.3 L192.5,525.6 L193.4,523.9 L194.3,539.2 L195.2,531.4 L196.1,544.6 L197.0,533.8 L197.9,545.3 L198.8,542.1 L199.7,543.1 L200.6,540.5 L201.5,548.5 L202.4,553.2 L203.3,552.4 L204.2,546.8 L205.1,561.5 L206.0,561.5 L206.9,570.9 L207.7,558.3 L208.6,569.5 L209.5,565.5 L210.4,572.0 L211.3,573.8 L212.2,575.6 L213.1,572.6 L214.0,578.1 L214.9,573.4 L215.8,581.0 L216.7,576.5 L217.6,585.4 L218.5,579.1 L219.4,583.8 L220.3,581.1 L221.2,583.2 L222.1,583.4 L223.0,586.8 L223.9,587.2 L224.8,588.2 L225.7,588.2 L226.6,588.2 L227.5,588.2 L228.4,588.2 L229.3,588.2" fill="none" stroke="#c8449f" stroke-width="0.6" stroke-linejoin="miter" opacity="1.0"/>
<line x1="50.60" y1="468.00" x2="50.60" y2="588.20" stroke="#c0509a" stroke-width="0.6"/>
<text x="189.50" y="478.60" font-size="8.3" text-anchor="start" textLength="11.2" lengthAdjust="spacingAndGlyphs" fill="#000">RP</text>
<text x="206.30" y="490.00" font-size="8.3" text-anchor="start" textLength="11.5" lengthAdjust="spacingAndGlyphs" fill="#000">Thr</text>
<text x="96.30" y="515.00" font-size="8.3" text-anchor="start" textLength="38.2" lengthAdjust="spacingAndGlyphs" fill="#000">Cyclo+Thr</text>
<text x="90.00" y="533.50" font-size="8.3" text-anchor="start" textLength="39.5" lengthAdjust="spacingAndGlyphs" fill="#000">Vismo+Thr</text>
<line x1="187.50" y1="478.00" x2="174.13" y2="486.54" stroke="#000" stroke-width="1.3"/>
<polygon points="169.50,489.50 173.21,484.16 175.90,488.38" fill="#000"/>
<line x1="204.50" y1="488.80" x2="191.06" y2="496.55" stroke="#000" stroke-width="1.3"/>
<polygon points="186.30,499.30 190.25,494.14 192.75,498.47" fill="#000"/>
<line x1="132.50" y1="518.80" x2="150.19" y2="528.63" stroke="#000" stroke-width="1.3"/>
<polygon points="155.00,531.30 148.54,530.57 150.97,526.20" fill="#000"/>
<line x1="125.00" y1="536.30" x2="139.02" y2="544.28" stroke="#000" stroke-width="1.3"/>
<polygon points="143.80,547.00 137.35,546.20 139.82,541.86" fill="#000"/>
<line x1="368.30" y1="23.50" x2="368.30" y2="155.20" stroke="#000" stroke-width="1.4"/>
<line x1="367.70" y1="154.60" x2="511.00" y2="154.60" stroke="#000" stroke-width="1.4"/>
<line x1="363.70" y1="154.40" x2="368.30" y2="154.40" stroke="#000" stroke-width="1.2"/>
<text x="358.70" y="158.10" font-size="10.3" text-anchor="end" textLength="6.2" lengthAdjust="spacingAndGlyphs" fill="#000">0</text>
<line x1="363.70" y1="129.36" x2="368.30" y2="129.36" stroke="#000" stroke-width="1.2"/>
<text x="358.70" y="133.06" font-size="10.3" text-anchor="end" textLength="18.6" lengthAdjust="spacingAndGlyphs" fill="#000">500</text>
<line x1="363.70" y1="104.32" x2="368.30" y2="104.32" stroke="#000" stroke-width="1.2"/>
<text x="358.70" y="108.02" font-size="10.3" text-anchor="end" textLength="24.7" lengthAdjust="spacingAndGlyphs" fill="#000">1000</text>
<line x1="363.70" y1="79.28" x2="368.30" y2="79.28" stroke="#000" stroke-width="1.2"/>
<text x="358.70" y="82.98" font-size="10.3" text-anchor="end" textLength="24.7" lengthAdjust="spacingAndGlyphs" fill="#000">1500</text>
<line x1="363.70" y1="54.24" x2="368.30" y2="54.24" stroke="#000" stroke-width="1.2"/>
<text x="358.70" y="57.94" font-size="10.3" text-anchor="end" textLength="24.7" lengthAdjust="spacingAndGlyphs" fill="#000">2000</text>
<line x1="363.70" y1="29.20" x2="368.30" y2="29.20" stroke="#000" stroke-width="1.2"/>
<text x="358.70" y="32.90" font-size="10.3" text-anchor="end" textLength="24.7" lengthAdjust="spacingAndGlyphs" fill="#000">2500</text>
<line x1="389.60" y1="154.60" x2="389.60" y2="158.80" stroke="#000" stroke-width="1.2"/>
<text transform="translate(394.01,167.71) rotate(-45)" font-size="11.03" text-anchor="end" textLength="14.59" lengthAdjust="spacingAndGlyphs">RP</text>
<line x1="426.50" y1="154.60" x2="426.50" y2="158.80" stroke="#000" stroke-width="1.2"/>
<text transform="translate(430.91,167.71) rotate(-45)" font-size="11.03" text-anchor="end" textLength="15.75" lengthAdjust="spacingAndGlyphs">Thr</text>
<line x1="463.50" y1="154.60" x2="463.50" y2="158.80" stroke="#000" stroke-width="1.2"/>
<text transform="translate(467.91,167.71) rotate(-45)" font-size="11.03" text-anchor="end" textLength="48.14" lengthAdjust="spacingAndGlyphs">Cyclo+Thr</text>
<line x1="500.60" y1="154.60" x2="500.60" y2="158.80" stroke="#000" stroke-width="1.2"/>
<text transform="translate(505.01,167.71) rotate(-45)" font-size="11.03" text-anchor="end" textLength="50.87" lengthAdjust="spacingAndGlyphs">Vismo+Thr</text>
<text transform="translate(325.20,89.40) rotate(-90)" font-size="12.0" text-anchor="middle" textLength="97.5" lengthAdjust="spacingAndGlyphs" stroke="#000" stroke-width="0.3">Fibrinogen binding (MFI)</text>
<line x1="379.10" y1="142.50" x2="400.10" y2="142.50" stroke="#000" stroke-width="1.4"/>
<line x1="389.60" y1="140.20" x2="389.60" y2="144.50" stroke="#000" stroke-width="1.4"/>
<line x1="384.10" y1="140.20" x2="395.10" y2="140.20" stroke="#000" stroke-width="1.4"/>
<line x1="384.10" y1="144.50" x2="395.10" y2="144.50" stroke="#000" stroke-width="1.4"/>
<polygon points="382.00,142.30 384.90,145.20 382.00,148.10 379.10,145.20" fill="#c8102e"/>
<polygon points="389.50,134.90 392.40,137.80 389.50,140.70 386.60,137.80" fill="#c8102e"/>
<polygon points="397.50,141.10 400.40,144.00 397.50,146.90 394.60,144.00" fill="#c8102e"/>
<line x1="415.75" y1="67.00" x2="437.25" y2="67.00" stroke="#000" stroke-width="1.4"/>
<line x1="426.50" y1="57.80" x2="426.50" y2="77.00" stroke="#000" stroke-width="1.4"/>
<line x1="421.15" y1="57.80" x2="431.85" y2="57.80" stroke="#000" stroke-width="1.4"/>
<line x1="421.15" y1="77.00" x2="431.85" y2="77.00" stroke="#000" stroke-width="1.4"/>
<polygon points="426.50,46.23 429.60,51.68 423.40,51.68" fill="#2fb040"/>
<polygon points="426.50,70.73 429.60,76.18 423.40,76.18" fill="#2fb040"/>
<polygon points="426.50,77.53 429.60,82.98 423.40,82.98" fill="#2fb040"/>
<polygon points="426.50,34.90 427.15,36.61 428.97,36.70 427.55,37.84 428.03,39.60 426.50,38.60 424.97,39.60 425.45,37.84 424.03,36.70 425.85,36.61" fill="#000"/>
<line x1="452.90" y1="108.00" x2="474.10" y2="108.00" stroke="#000" stroke-width="1.4"/>
<line x1="463.50" y1="103.60" x2="463.50" y2="112.70" stroke="#000" stroke-width="1.4"/>
<line x1="458.10" y1="103.60" x2="468.90" y2="103.60" stroke="#000" stroke-width="1.4"/>
<line x1="458.10" y1="112.70" x2="468.90" y2="112.70" stroke="#000" stroke-width="1.4"/>
<polygon points="456.00,112.13 459.10,117.58 452.90,117.58" fill="#8c86cf"/>
<polygon points="463.50,96.33 466.60,101.78 460.40,101.78" fill="#8c86cf"/>
<polygon points="471.50,107.13 474.60,112.58 468.40,112.58" fill="#8c86cf"/>
<text x="463.50" y="94.70" font-size="9" text-anchor="middle" fill="#1a1a1a" stroke="#1a1a1a" stroke-width="0.25">#</text>
<line x1="489.85" y1="106.80" x2="511.35" y2="106.80" stroke="#000" stroke-width="1.4"/>
<line x1="500.60" y1="95.40" x2="500.60" y2="118.50" stroke="#000" stroke-width="1.4"/>
<line x1="495.20" y1="95.40" x2="506.00" y2="95.40" stroke="#000" stroke-width="1.4"/>
<line x1="495.20" y1="118.50" x2="506.00" y2="118.50" stroke="#000" stroke-width="1.4"/>
<polygon points="493.00,115.73 496.10,121.18 489.90,121.18" fill="#3c5068"/>
<polygon points="500.60,81.53 503.70,86.98 497.50,86.98" fill="#3c5068"/>
<polygon points="508.30,114.53 511.40,119.98 505.20,119.98" fill="#3c5068"/>
<text x="500.60" y="79.20" font-size="9" text-anchor="middle" fill="#1a1a1a" stroke="#1a1a1a" stroke-width="0.25">#</text>
<line x1="367.00" y1="240.00" x2="367.00" y2="377.60" stroke="#000" stroke-width="1.4"/>
<line x1="366.40" y1="377.00" x2="511.00" y2="377.00" stroke="#000" stroke-width="1.4"/>
<line x1="362.40" y1="377.00" x2="367.00" y2="377.00" stroke="#000" stroke-width="1.2"/>
<text x="358.70" y="380.70" font-size="10.3" text-anchor="end" textLength="6.2" lengthAdjust="spacingAndGlyphs" fill="#000">0</text>
<line x1="362.40" y1="350.60" x2="367.00" y2="350.60" stroke="#000" stroke-width="1.2"/>
<text x="358.70" y="354.30" font-size="10.3" text-anchor="end" textLength="12.4" lengthAdjust="spacingAndGlyphs" fill="#000">50</text>
<line x1="362.40" y1="324.20" x2="367.00" y2="324.20" stroke="#000" stroke-width="1.2"/>
<text x="358.70" y="327.90" font-size="10.3" text-anchor="end" textLength="18.6" lengthAdjust="spacingAndGlyphs" fill="#000">100</text>
<line x1="362.40" y1="297.80" x2="367.00" y2="297.80" stroke="#000" stroke-width="1.2"/>
<text x="358.70" y="301.50" font-size="10.3" text-anchor="end" textLength="18.6" lengthAdjust="spacingAndGlyphs" fill="#000">150</text>
<line x1="362.40" y1="271.40" x2="367.00" y2="271.40" stroke="#000" stroke-width="1.2"/>
<text x="358.70" y="275.10" font-size="10.3" text-anchor="end" textLength="18.6" lengthAdjust="spacingAndGlyphs" fill="#000">200</text>
<line x1="362.40" y1="245.00" x2="367.00" y2="245.00" stroke="#000" stroke-width="1.2"/>
<text x="358.70" y="248.70" font-size="10.3" text-anchor="end" textLength="18.6" lengthAdjust="spacingAndGlyphs" fill="#000">250</text>
<line x1="388.90" y1="377.00" x2="388.90" y2="381.20" stroke="#000" stroke-width="1.2"/>
<text transform="translate(393.31,390.11) rotate(-45)" font-size="11.03" text-anchor="end" textLength="14.59" lengthAdjust="spacingAndGlyphs">RP</text>
<line x1="425.30" y1="377.00" x2="425.30" y2="381.20" stroke="#000" stroke-width="1.2"/>
<text transform="translate(429.71,390.11) rotate(-45)" font-size="11.03" text-anchor="end" textLength="15.75" lengthAdjust="spacingAndGlyphs">Thr</text>
<line x1="461.90" y1="377.00" x2="461.90" y2="381.20" stroke="#000" stroke-width="1.2"/>
<text transform="translate(466.31,390.11) rotate(-45)" font-size="11.03" text-anchor="end" textLength="48.14" lengthAdjust="spacingAndGlyphs">Cyclo+Thr</text>
<line x1="499.10" y1="377.00" x2="499.10" y2="381.20" stroke="#000" stroke-width="1.2"/>
<text transform="translate(503.51,390.11) rotate(-45)" font-size="11.03" text-anchor="end" textLength="50.87" lengthAdjust="spacingAndGlyphs">Vismo+Thr</text>
<text transform="translate(330.40,310.50) rotate(-90)" font-size="12.0" text-anchor="middle" textLength="85.6" lengthAdjust="spacingAndGlyphs" stroke="#000" stroke-width="0.3">PAC-1 binding (MFI)</text>
<line x1="377.40" y1="367.30" x2="400.40" y2="367.30" stroke="#000" stroke-width="1.4"/>
<line x1="388.90" y1="365.50" x2="388.90" y2="369.00" stroke="#000" stroke-width="1.4"/>
<line x1="383.40" y1="365.50" x2="394.40" y2="365.50" stroke="#000" stroke-width="1.4"/>
<line x1="383.40" y1="369.00" x2="394.40" y2="369.00" stroke="#000" stroke-width="1.4"/>
<polygon points="378.50,359.40 381.30,362.20 378.50,365.00 375.70,362.20" fill="#c8102e"/>
<polygon points="378.50,366.00 381.30,368.80 378.50,371.60 375.70,368.80" fill="#c8102e"/>
<polygon points="383.50,363.20 386.30,366.00 383.50,368.80 380.70,366.00" fill="#c8102e"/>
<polygon points="386.50,361.70 389.30,364.50 386.50,367.30 383.70,364.50" fill="#c8102e"/>
<polygon points="389.00,367.40 391.80,370.20 389.00,373.00 386.20,370.20" fill="#c8102e"/>
<polygon points="391.50,363.70 394.30,366.50 391.50,369.30 388.70,366.50" fill="#c8102e"/>
<polygon points="394.00,362.20 396.80,365.00 394.00,367.80 391.20,365.00" fill="#c8102e"/>
<polygon points="396.00,366.20 398.80,369.00 396.00,371.80 393.20,369.00" fill="#c8102e"/>
<polygon points="398.50,364.70 401.30,367.50 398.50,370.30 395.70,367.50" fill="#c8102e"/>
<line x1="413.40" y1="333.90" x2="437.20" y2="333.90" stroke="#000" stroke-width="1.4"/>
<line x1="425.30" y1="324.40" x2="425.30" y2="343.70" stroke="#000" stroke-width="1.4"/>
<line x1="419.90" y1="324.40" x2="430.70" y2="324.40" stroke="#000" stroke-width="1.4"/>
<line x1="419.90" y1="343.70" x2="430.70" y2="343.70" stroke="#000" stroke-width="1.4"/>
<polygon points="425.30,265.93 428.40,271.38 422.20,271.38" fill="#2fb040"/>
<polygon points="425.30,298.73 428.40,304.18 422.20,304.18" fill="#2fb040"/>
<polygon points="415.70,344.63 418.80,350.08 412.60,350.08" fill="#2fb040"/>
<polygon points="420.70,341.03 423.80,346.48 417.60,346.48" fill="#2fb040"/>
<polygon points="429.00,338.03 432.10,343.48 425.90,343.48" fill="#2fb040"/>
<polygon points="434.20,342.53 437.30,347.98 431.10,347.98" fill="#2fb040"/>
<polygon points="424.60,346.43 427.70,351.88 421.50,351.88" fill="#2fb040"/>
<polygon points="429.00,346.43 432.10,351.88 425.90,351.88" fill="#2fb040"/>
<polygon points="425.30,355.93 428.40,361.38 422.20,361.38" fill="#2fb040"/>
<polygon points="425.30,257.40 425.95,259.11 427.77,259.20 426.35,260.34 426.83,262.10 425.30,261.10 423.77,262.10 424.25,260.34 422.83,259.20 424.65,259.11" fill="#000"/>
<line x1="450.40" y1="359.80" x2="473.40" y2="359.80" stroke="#000" stroke-width="1.4"/>
<line x1="461.90" y1="356.50" x2="461.90" y2="363.00" stroke="#000" stroke-width="1.4"/>
<line x1="456.50" y1="356.50" x2="467.30" y2="356.50" stroke="#000" stroke-width="1.4"/>
<line x1="456.50" y1="363.00" x2="467.30" y2="363.00" stroke="#000" stroke-width="1.4"/>
<polygon points="461.90,342.53 465.00,347.98 458.80,347.98" fill="#8c86cf"/>
<polygon points="461.90,350.03 465.00,355.48 458.80,355.48" fill="#8c86cf"/>
<polygon points="453.50,360.43 456.60,365.88 450.40,365.88" fill="#8c86cf"/>
<polygon points="458.90,357.43 462.00,362.88 455.80,362.88" fill="#8c86cf"/>
<polygon points="464.80,357.43 467.90,362.88 461.70,362.88" fill="#8c86cf"/>
<polygon points="467.80,362.53 470.90,367.98 464.70,367.98" fill="#8c86cf"/>
<polygon points="471.40,359.53 474.50,364.98 468.30,364.98" fill="#8c86cf"/>
<polygon points="461.90,358.93 465.00,364.38 458.80,364.38" fill="#8c86cf"/>
<text x="461.90" y="340.70" font-size="9" text-anchor="middle" fill="#1a1a1a" stroke="#1a1a1a" stroke-width="0.25">#</text>
<line x1="487.20" y1="353.30" x2="511.00" y2="353.30" stroke="#000" stroke-width="1.4"/>
<line x1="499.10" y1="348.80" x2="499.10" y2="357.70" stroke="#000" stroke-width="1.4"/>
<line x1="493.70" y1="348.80" x2="504.50" y2="348.80" stroke="#000" stroke-width="1.4"/>
<line x1="493.70" y1="357.70" x2="504.50" y2="357.70" stroke="#000" stroke-width="1.4"/>
<polygon points="499.10,319.63 502.20,325.08 496.00,325.08" fill="#3c5068"/>
<polygon points="499.10,340.43 502.20,345.88 496.00,345.88" fill="#3c5068"/>
<polygon points="490.20,353.53 493.30,358.98 487.10,358.98" fill="#3c5068"/>
<polygon points="499.10,348.53 502.20,353.98 496.00,353.98" fill="#3c5068"/>
<polygon points="509.00,349.43 512.10,354.88 505.90,354.88" fill="#3c5068"/>
<polygon points="490.20,364.03 493.30,369.48 487.10,369.48" fill="#3c5068"/>
<polygon points="499.10,357.43 502.20,362.88 496.00,362.88" fill="#3c5068"/>
<polygon points="509.00,357.43 512.10,362.88 505.90,362.88" fill="#3c5068"/>
<polygon points="509.00,363.43 512.10,368.88 505.90,368.88" fill="#3c5068"/>
<text x="499.10" y="317.20" font-size="9" text-anchor="middle" fill="#1a1a1a" stroke="#1a1a1a" stroke-width="0.25">#</text>
<line x1="367.40" y1="462.40" x2="367.40" y2="589.60" stroke="#000" stroke-width="1.4"/>
<line x1="366.80" y1="589.00" x2="511.00" y2="589.00" stroke="#000" stroke-width="1.4"/>
<line x1="362.80" y1="589.00" x2="367.40" y2="589.00" stroke="#000" stroke-width="1.2"/>
<text x="358.70" y="592.70" font-size="10.3" text-anchor="end" textLength="6.2" lengthAdjust="spacingAndGlyphs" fill="#000">0</text>
<line x1="362.80" y1="548.40" x2="367.40" y2="548.40" stroke="#000" stroke-width="1.2"/>
<text x="358.70" y="552.10" font-size="10.3" text-anchor="end" textLength="18.6" lengthAdjust="spacingAndGlyphs" fill="#000">500</text>
<line x1="362.80" y1="507.80" x2="367.40" y2="507.80" stroke="#000" stroke-width="1.2"/>
<text x="358.70" y="511.50" font-size="10.3" text-anchor="end" textLength="24.7" lengthAdjust="spacingAndGlyphs" fill="#000">1000</text>
<line x1="362.80" y1="467.20" x2="367.40" y2="467.20" stroke="#000" stroke-width="1.2"/>
<text x="358.70" y="470.90" font-size="10.3" text-anchor="end" textLength="24.7" lengthAdjust="spacingAndGlyphs" fill="#000">1500</text>
<line x1="388.40" y1="589.00" x2="388.40" y2="593.20" stroke="#000" stroke-width="1.2"/>
<text transform="translate(392.81,602.11) rotate(-45)" font-size="11.03" text-anchor="end" textLength="14.59" lengthAdjust="spacingAndGlyphs">RP</text>
<line x1="425.20" y1="589.00" x2="425.20" y2="593.20" stroke="#000" stroke-width="1.2"/>
<text transform="translate(429.61,602.11) rotate(-45)" font-size="11.03" text-anchor="end" textLength="15.75" lengthAdjust="spacingAndGlyphs">Thr</text>
<line x1="462.20" y1="589.00" x2="462.20" y2="593.20" stroke="#000" stroke-width="1.2"/>
<text transform="translate(466.61,602.11) rotate(-45)" font-size="11.03" text-anchor="end" textLength="48.14" lengthAdjust="spacingAndGlyphs">Cyclo+Thr</text>
<line x1="499.10" y1="589.00" x2="499.10" y2="593.20" stroke="#000" stroke-width="1.2"/>
<text transform="translate(503.51,602.11) rotate(-45)" font-size="11.03" text-anchor="end" textLength="50.87" lengthAdjust="spacingAndGlyphs">Vismo+Thr</text>
<text transform="translate(323.90,525.80) rotate(-90)" font-size="12.0" text-anchor="middle" textLength="102.4" lengthAdjust="spacingAndGlyphs" stroke="#000" stroke-width="0.3">P-selectin exposure (MFI)</text>
<line x1="376.40" y1="560.40" x2="400.40" y2="560.40" stroke="#000" stroke-width="1.4"/>
<line x1="388.40" y1="551.80" x2="388.40" y2="568.80" stroke="#000" stroke-width="1.4"/>
<line x1="383.05" y1="551.80" x2="393.75" y2="551.80" stroke="#000" stroke-width="1.4"/>
<line x1="383.05" y1="568.80" x2="393.75" y2="568.80" stroke="#000" stroke-width="1.4"/>
<polygon points="385.30,527.40 388.20,530.30 385.30,533.20 382.40,530.30" fill="#c8102e"/>
<polygon points="391.80,527.40 394.70,530.30 391.80,533.20 388.90,530.30" fill="#c8102e"/>
<polygon points="388.20,536.10 391.10,539.00 388.20,541.90 385.30,539.00" fill="#c8102e"/>
<polygon points="391.20,545.90 394.10,548.80 391.20,551.70 388.30,548.80" fill="#c8102e"/>
<polygon points="385.30,549.50 388.20,552.40 385.30,555.30 382.40,552.40" fill="#c8102e"/>
<polygon points="379.00,582.30 381.90,585.20 379.00,588.10 376.10,585.20" fill="#c8102e"/>
<polygon points="385.30,582.30 388.20,585.20 385.30,588.10 382.40,585.20" fill="#c8102e"/>
<polygon points="391.20,582.30 394.10,585.20 391.20,588.10 388.30,585.20" fill="#c8102e"/>
<polygon points="397.20,582.30 400.10,585.20 397.20,588.10 394.30,585.20" fill="#c8102e"/>
<line x1="413.30" y1="528.00" x2="437.10" y2="528.00" stroke="#000" stroke-width="1.4"/>
<line x1="425.20" y1="516.60" x2="425.20" y2="539.60" stroke="#000" stroke-width="1.4"/>
<line x1="419.80" y1="516.60" x2="430.60" y2="516.60" stroke="#000" stroke-width="1.4"/>
<line x1="419.80" y1="539.60" x2="430.60" y2="539.60" stroke="#000" stroke-width="1.4"/>
<polygon points="419.50,482.03 422.60,487.48 416.40,487.48" fill="#2fb040"/>
<polygon points="431.20,485.63 434.30,491.08 428.10,491.08" fill="#2fb040"/>
<polygon points="425.20,493.13 428.30,498.58 422.10,498.58" fill="#2fb040"/>
<polygon points="425.20,509.53 428.30,514.98 422.10,514.98" fill="#2fb040"/>
<polygon points="419.50,531.23 422.60,536.68 416.40,536.68" fill="#2fb040"/>
<polygon points="431.20,532.73 434.30,538.18 428.10,538.18" fill="#2fb040"/>
<polygon points="425.20,558.03 428.30,563.48 422.10,563.48" fill="#2fb040"/>
<polygon points="425.20,564.03 428.30,569.48 422.10,569.48" fill="#2fb040"/>
<polygon points="425.20,572.93 428.30,578.38 422.10,578.38" fill="#2fb040"/>
<polygon points="425.20,470.20 425.85,471.91 427.67,472.00 426.25,473.14 426.73,474.90 425.20,473.90 423.67,474.90 424.15,473.14 422.73,472.00 424.55,471.91" fill="#000"/>
<line x1="450.40" y1="545.00" x2="474.00" y2="545.00" stroke="#000" stroke-width="1.4"/>
<line x1="462.20" y1="534.50" x2="462.20" y2="556.00" stroke="#000" stroke-width="1.4"/>
<line x1="456.80" y1="534.50" x2="467.60" y2="534.50" stroke="#000" stroke-width="1.4"/>
<line x1="456.80" y1="556.00" x2="467.60" y2="556.00" stroke="#000" stroke-width="1.4"/>
<polygon points="462.20,500.83 465.30,506.28 459.10,506.28" fill="#8c86cf"/>
<polygon points="462.20,506.83 465.30,512.28 459.10,512.28" fill="#8c86cf"/>
<polygon points="462.20,527.33 465.30,532.78 459.10,532.78" fill="#8c86cf"/>
<polygon points="462.20,537.23 465.30,542.68 459.10,542.68" fill="#8c86cf"/>
<polygon points="462.20,544.73 465.30,550.18 459.10,550.18" fill="#8c86cf"/>
<polygon points="453.50,575.33 456.60,580.78 450.40,580.78" fill="#8c86cf"/>
<polygon points="462.20,572.33 465.30,577.78 459.10,577.78" fill="#8c86cf"/>
<polygon points="471.40,574.43 474.50,579.88 468.30,579.88" fill="#8c86cf"/>
<text x="462.20" y="498.40" font-size="9" text-anchor="middle" fill="#1a1a1a" stroke="#1a1a1a" stroke-width="0.25">#</text>
<line x1="487.20" y1="539.00" x2="511.00" y2="539.00" stroke="#000" stroke-width="1.4"/>
<line x1="499.10" y1="527.70" x2="499.10" y2="550.00" stroke="#000" stroke-width="1.4"/>
<line x1="493.70" y1="527.70" x2="504.50" y2="527.70" stroke="#000" stroke-width="1.4"/>
<line x1="493.70" y1="550.00" x2="504.50" y2="550.00" stroke="#000" stroke-width="1.4"/>
<polygon points="490.20,498.43 493.30,503.88 487.10,503.88" fill="#3c5068"/>
<polygon points="499.10,501.43 502.20,506.88 496.00,506.88" fill="#3c5068"/>
<polygon points="508.70,496.93 511.80,502.38 505.60,502.38" fill="#3c5068"/>
<polygon points="499.10,510.43 502.20,515.88 496.00,515.88" fill="#3c5068"/>
<polygon points="499.10,538.13 502.20,543.58 496.00,543.58" fill="#3c5068"/>
<polygon points="499.10,560.43 502.20,565.88 496.00,565.88" fill="#3c5068"/>
<polygon points="494.70,569.43 497.80,574.88 491.60,574.88" fill="#3c5068"/>
<polygon points="503.60,570.63 506.70,576.08 500.50,576.08" fill="#3c5068"/>
<polygon points="499.10,578.03 502.20,583.48 496.00,583.48" fill="#3c5068"/>
<text x="499.10" y="494.50" font-size="9" text-anchor="middle" fill="#1a1a1a" stroke="#1a1a1a" stroke-width="0.25">#</text>
<line x1="366.90" y1="674.90" x2="366.90" y2="827.90" stroke="#000" stroke-width="1.4"/>
<line x1="366.30" y1="827.30" x2="511.00" y2="827.30" stroke="#000" stroke-width="1.4"/>
<line x1="362.30" y1="827.30" x2="366.90" y2="827.30" stroke="#000" stroke-width="1.2"/>
<text x="357.80" y="831.00" font-size="10.3" text-anchor="end" textLength="15.5" lengthAdjust="spacingAndGlyphs" fill="#000">0.0</text>
<line x1="362.30" y1="797.98" x2="366.90" y2="797.98" stroke="#000" stroke-width="1.2"/>
<text x="357.80" y="801.68" font-size="10.3" text-anchor="end" textLength="15.5" lengthAdjust="spacingAndGlyphs" fill="#000">0.5</text>
<line x1="362.30" y1="768.66" x2="366.90" y2="768.66" stroke="#000" stroke-width="1.2"/>
<text x="357.80" y="772.36" font-size="10.3" text-anchor="end" textLength="15.5" lengthAdjust="spacingAndGlyphs" fill="#000">1.0</text>
<line x1="362.30" y1="739.34" x2="366.90" y2="739.34" stroke="#000" stroke-width="1.2"/>
<text x="357.80" y="743.04" font-size="10.3" text-anchor="end" textLength="15.5" lengthAdjust="spacingAndGlyphs" fill="#000">1.5</text>
<line x1="362.30" y1="710.02" x2="366.90" y2="710.02" stroke="#000" stroke-width="1.2"/>
<text x="357.80" y="713.72" font-size="10.3" text-anchor="end" textLength="15.5" lengthAdjust="spacingAndGlyphs" fill="#000">2.0</text>
<line x1="362.30" y1="680.70" x2="366.90" y2="680.70" stroke="#000" stroke-width="1.2"/>
<text x="357.80" y="684.40" font-size="10.3" text-anchor="end" textLength="15.5" lengthAdjust="spacingAndGlyphs" fill="#000">2.5</text>
<line x1="387.60" y1="827.30" x2="387.60" y2="831.50" stroke="#000" stroke-width="1.2"/>
<text transform="translate(392.01,840.41) rotate(-45)" font-size="11.03" text-anchor="end" textLength="14.59" lengthAdjust="spacingAndGlyphs">RP</text>
<line x1="424.60" y1="827.30" x2="424.60" y2="831.50" stroke="#000" stroke-width="1.2"/>
<text transform="translate(429.01,840.41) rotate(-45)" font-size="11.03" text-anchor="end" textLength="15.75" lengthAdjust="spacingAndGlyphs">Thr</text>
<line x1="461.70" y1="827.30" x2="461.70" y2="831.50" stroke="#000" stroke-width="1.2"/>
<text transform="translate(466.11,840.41) rotate(-45)" font-size="11.03" text-anchor="end" textLength="48.14" lengthAdjust="spacingAndGlyphs">Cyclo+Thr</text>
<line x1="499.10" y1="827.30" x2="499.10" y2="831.50" stroke="#000" stroke-width="1.2"/>
<text transform="translate(503.51,840.41) rotate(-45)" font-size="11.03" text-anchor="end" textLength="50.87" lengthAdjust="spacingAndGlyphs">Vismo+Thr</text>
<text transform="translate(334.00,833.40) rotate(-90)" font-size="12.0" textLength="76.9" lengthAdjust="spacingAndGlyphs" stroke="#000" stroke-width="0.3">EVs concentration</text>
<text transform="translate(334.00,751.40) rotate(-90)" font-size="12.0" textLength="15.3" lengthAdjust="spacingAndGlyphs" stroke="#000" stroke-width="0.3">(×10</text>
<text transform="translate(328.60,736.00) rotate(-90)" font-size="9.0" textLength="5.9" lengthAdjust="spacingAndGlyphs" stroke="#000" stroke-width="0.2">8</text>
<text transform="translate(334.00,726.30) rotate(-90)" font-size="12.0" textLength="51.0" lengthAdjust="spacingAndGlyphs" stroke="#000" stroke-width="0.3">particles/ml)</text>
<line x1="375.20" y1="786.30" x2="400.00" y2="786.30" stroke="#000" stroke-width="1.4"/>
<line x1="387.60" y1="777.90" x2="387.60" y2="794.30" stroke="#000" stroke-width="1.4"/>
<line x1="381.65" y1="777.90" x2="393.55" y2="777.90" stroke="#000" stroke-width="1.4"/>
<line x1="381.65" y1="794.30" x2="393.55" y2="794.30" stroke="#000" stroke-width="1.4"/>
<polygon points="382.00,774.40 384.90,777.30 382.00,780.20 379.10,777.30" fill="#c8102e"/>
<polygon points="393.90,775.60 396.80,778.50 393.90,781.40 391.00,778.50" fill="#c8102e"/>
<polygon points="388.00,800.40 390.90,803.30 388.00,806.20 385.10,803.30" fill="#c8102e"/>
<line x1="412.40" y1="718.30" x2="436.80" y2="718.30" stroke="#000" stroke-width="1.4"/>
<line x1="424.60" y1="713.80" x2="424.60" y2="722.20" stroke="#000" stroke-width="1.4"/>
<line x1="419.10" y1="713.80" x2="430.10" y2="713.80" stroke="#000" stroke-width="1.4"/>
<line x1="419.10" y1="722.20" x2="430.10" y2="722.20" stroke="#000" stroke-width="1.4"/>
<polygon points="424.60,707.03 427.70,712.48 421.50,712.48" fill="#2fb040"/>
<polygon points="419.20,721.93 422.30,727.38 416.10,727.38" fill="#2fb040"/>
<polygon points="430.60,717.43 433.70,722.88 427.50,722.88" fill="#2fb040"/>
<polygon points="424.60,698.40 425.25,700.11 427.07,700.20 425.65,701.34 426.13,703.10 424.60,702.10 423.07,703.10 423.55,701.34 422.13,700.20 423.95,700.11" fill="#000"/>
<line x1="449.50" y1="773.50" x2="473.90" y2="773.50" stroke="#000" stroke-width="1.4"/>
<line x1="461.70" y1="771.00" x2="461.70" y2="775.50" stroke="#000" stroke-width="1.4"/>
<line x1="456.20" y1="771.00" x2="467.20" y2="771.00" stroke="#000" stroke-width="1.4"/>
<line x1="456.20" y1="775.50" x2="467.20" y2="775.50" stroke="#000" stroke-width="1.4"/>
<polygon points="456.50,767.23 459.60,772.68 453.40,772.68" fill="#8c86cf"/>
<polygon points="456.50,774.03 459.60,779.48 453.40,779.48" fill="#8c86cf"/>
<polygon points="467.80,769.63 470.90,775.08 464.70,775.08" fill="#8c86cf"/>
<text x="461.70" y="764.20" font-size="9" text-anchor="middle" fill="#1a1a1a" stroke="#1a1a1a" stroke-width="0.25">#</text>
<line x1="487.20" y1="763.60" x2="511.00" y2="763.60" stroke="#000" stroke-width="1.4"/>
<line x1="499.10" y1="754.10" x2="499.10" y2="773.50" stroke="#000" stroke-width="1.4"/>
<line x1="493.60" y1="754.10" x2="504.60" y2="754.10" stroke="#000" stroke-width="1.4"/>
<line x1="493.60" y1="773.50" x2="504.60" y2="773.50" stroke="#000" stroke-width="1.4"/>
<rect x="496.10" y="742.10" width="6.00" height="6.00" fill="#485c74"/>
<rect x="490.20" y="772.00" width="6.00" height="6.00" fill="#485c74"/>
<rect x="501.50" y="768.40" width="6.00" height="6.00" fill="#485c74"/>
<text x="499.10" y="739.40" font-size="9" text-anchor="middle" fill="#1a1a1a" stroke="#1a1a1a" stroke-width="0.25">#</text>
<line x1="11.50" y1="675.00" x2="11.50" y2="872.10" stroke="#000" stroke-width="1.5"/>
<line x1="10.80" y1="871.50" x2="286.40" y2="871.50" stroke="#000" stroke-width="1.5"/>
<line x1="11.00" y1="871.50" x2="11.00" y2="875.50" stroke="#000" stroke-width="1.1"/>
<line x1="97.00" y1="871.50" x2="97.00" y2="875.50" stroke="#000" stroke-width="1.1"/>
<line x1="122.89" y1="871.50" x2="122.89" y2="875.50" stroke="#000" stroke-width="1.1"/>
<line x1="157.11" y1="871.50" x2="157.11" y2="875.50" stroke="#000" stroke-width="1.1"/>
<line x1="183.00" y1="871.50" x2="183.00" y2="875.50" stroke="#000" stroke-width="1.1"/>
<line x1="208.89" y1="871.50" x2="208.89" y2="875.50" stroke="#000" stroke-width="1.1"/>
<line x1="243.11" y1="871.50" x2="243.11" y2="875.50" stroke="#000" stroke-width="1.1"/>
<line x1="269.00" y1="871.50" x2="269.00" y2="875.50" stroke="#000" stroke-width="1.1"/>
<text x="11.00" y="887.60" font-size="10.5" text-anchor="middle" fill="#000">1</text>
<text x="97.00" y="887.60" font-size="10.5" text-anchor="middle" fill="#000">10</text>
<text x="122.89" y="887.60" font-size="10.5" text-anchor="middle" fill="#000">20</text>
<text x="157.11" y="887.60" font-size="10.5" text-anchor="middle" fill="#000">50</text>
<text x="183.00" y="887.60" font-size="10.5" text-anchor="middle" fill="#000">100</text>
<text x="208.89" y="887.60" font-size="10.5" text-anchor="middle" fill="#000">200</text>
<text x="243.11" y="887.60" font-size="10.5" text-anchor="middle" fill="#000">500</text>
<text x="269.00" y="887.60" font-size="10.5" text-anchor="middle" fill="#000">1000</text>
<text x="290.20" y="887.60" font-size="10.5" text-anchor="middle" fill="#000">nm</text>
<line x1="20.00" y1="686.50" x2="28.80" y2="686.50" stroke="#cc2a3a" stroke-width="1.6"/>
<text x="33.50" y="689.70" font-size="8.9" text-anchor="start" textLength="112.5" lengthAdjust="spacingAndGlyphs" fill="#000">RP 2 rep (0.50E8 particles/ml)</text>
<line x1="20.00" y1="697.60" x2="28.80" y2="697.60" stroke="#0f7a55" stroke-width="1.6"/>
<text x="33.50" y="700.80" font-size="8.9" text-anchor="start" textLength="113.3" lengthAdjust="spacingAndGlyphs" fill="#000">Thr 2 rep (2.53E8 particles/ml)</text>
<line x1="20.00" y1="708.60" x2="28.80" y2="708.60" stroke="#9a8cd0" stroke-width="1.6"/>
<text x="33.50" y="711.80" font-size="8.9" text-anchor="start" textLength="164.5" lengthAdjust="spacingAndGlyphs" fill="#000">Cyclopamine 100µm 1 (0.71E8 particles/ml)</text>
<line x1="20.00" y1="719.60" x2="28.80" y2="719.60" stroke="#3aaee8" stroke-width="1.6"/>
<text x="33.50" y="722.80" font-size="8.9" text-anchor="start" textLength="123.5" lengthAdjust="spacingAndGlyphs" fill="#000">Vismo 2 rep (0.62E8 particles/ml)</text>
<path d="M112.0,870.6 C112.7,870.3 114.8,870.9 116.0,869.0 C117.2,867.1 118.4,861.1 119.5,859.0 C120.6,856.9 121.5,856.3 122.5,856.3 C123.5,856.3 124.6,858.7 125.5,859.2 C126.4,859.7 126.7,859.5 127.7,859.4 C128.7,859.3 130.2,858.5 131.5,858.4 C132.8,858.2 134.2,858.1 135.4,858.5 C136.7,858.9 138.0,860.2 139.0,860.6 C140.0,861.0 140.4,861.0 141.5,860.6 C142.6,860.2 144.2,859.0 145.5,858.5 C146.8,858.0 147.8,857.2 149.2,857.5 C150.6,857.8 152.7,859.9 153.8,860.0 C154.9,860.1 154.7,857.8 155.8,857.9 C156.9,858.0 158.8,860.6 160.6,860.8 C162.3,861.0 164.5,858.9 166.3,859.2 C168.1,859.5 169.1,862.4 171.2,862.7 C173.3,863.0 176.7,862.1 178.8,860.8 C180.9,859.5 182.4,857.4 184.0,855.0 C185.6,852.6 187.1,849.2 188.5,846.3 C189.9,843.4 191.0,843.0 192.3,837.7 C193.6,832.4 195.1,818.9 196.2,814.6 C197.3,810.3 198.0,811.9 199.0,811.7 C200.0,811.5 201.0,813.0 202.0,813.5 C203.0,814.0 203.9,811.9 204.8,814.6 C205.8,817.4 206.6,822.6 207.7,830.0 C208.8,837.4 210.4,852.5 211.5,858.8 C212.6,865.1 213.4,867.3 214.4,868.0 C215.4,868.7 216.5,864.7 217.5,863.0 C218.5,861.3 219.4,858.1 220.2,857.9 C221.0,857.7 221.7,860.2 222.5,862.0 C223.3,863.8 223.9,867.1 225.0,868.5 C226.1,869.9 227.2,870.2 229.0,870.6 C230.8,871.0 234.8,870.6 236.0,870.6" fill="none" stroke="#cc1f35" stroke-width="1.8" stroke-linejoin="round" stroke-linecap="round"/>
<path d="M115.0,870.6 C115.8,870.0 118.2,868.0 119.5,867.0 C120.8,866.0 121.8,864.5 123.0,864.6 C124.2,864.7 125.5,866.5 126.5,867.5 C127.5,868.5 127.1,869.8 129.0,870.3 C130.9,870.8 135.8,870.7 138.0,870.5 C140.2,870.3 140.7,869.5 142.0,869.0 C143.3,868.5 144.7,867.6 146.0,867.7 C147.3,867.8 147.7,869.2 150.0,869.5 C152.3,869.8 156.7,870.1 160.0,869.5 C163.3,868.9 167.5,867.3 170.0,866.0 C172.5,864.7 173.2,862.1 175.0,861.7 C176.8,861.3 179.3,864.3 180.8,863.7 C182.3,863.1 183.1,860.7 184.0,858.0 C184.9,855.3 185.4,850.4 186.5,847.3 C187.6,844.2 189.3,840.3 190.4,839.6 C191.5,838.9 192.2,841.5 193.0,843.0 C193.8,844.5 194.2,847.0 195.2,848.3 C196.2,849.5 197.9,850.0 199.0,850.5 C200.1,851.0 200.9,850.9 202.0,851.2 C203.1,851.5 204.8,853.5 205.8,852.1 C206.8,850.7 207.4,847.0 208.0,843.0 C208.6,839.0 208.8,832.2 209.6,828.0 C210.3,823.8 211.7,818.5 212.5,817.5 C213.3,816.5 213.9,819.9 214.5,822.0 C215.1,824.1 215.4,827.7 216.3,830.0 C217.2,832.3 219.1,832.3 220.2,835.8 C221.3,839.3 221.9,847.0 223.0,851.2 C224.1,855.4 225.4,858.8 227.0,861.0 C228.6,863.2 231.3,865.6 232.7,864.6 C234.1,863.6 234.6,859.1 235.5,855.0 C236.4,850.9 237.5,840.7 238.3,840.2 C239.1,839.7 239.6,847.7 240.5,852.0 C241.4,856.3 242.4,863.0 243.5,866.0 C244.6,869.0 245.1,869.5 247.0,870.3 C248.9,871.1 253.7,870.5 255.0,870.6" fill="none" stroke="#8a7fcc" stroke-width="1.8" stroke-linejoin="round" stroke-linecap="round"/>
<path d="M130.0,870.6 C131.2,870.5 134.6,872.8 137.0,870.0 C139.4,867.2 142.3,858.3 144.6,853.8 C146.9,849.3 148.9,846.0 150.8,843.0 C152.7,840.0 154.5,837.8 156.0,836.0 C157.5,834.2 158.8,833.6 160.0,832.3 C161.2,831.0 162.2,830.9 163.5,828.0 C164.8,825.1 166.4,819.8 168.0,815.0 C169.6,810.2 171.5,801.6 173.0,799.2 C174.5,796.8 175.6,799.0 177.0,800.5 C178.4,802.0 180.4,808.0 181.7,807.9 C183.0,807.8 183.9,803.1 185.0,800.0 C186.1,796.9 187.0,794.0 188.0,789.0 C189.0,784.0 190.0,777.3 191.0,770.0 C192.0,762.7 192.7,753.0 194.0,745.0 C195.3,737.0 197.3,723.7 198.6,722.0 C199.9,720.3 200.9,728.2 202.0,735.0 C203.1,741.8 204.1,756.2 205.0,763.0 C205.9,769.8 206.6,776.1 207.3,775.6 C208.1,775.1 208.8,769.3 209.5,760.0 C210.2,750.7 210.7,733.5 211.5,720.0 C212.3,706.5 213.4,682.0 214.2,678.7 C215.0,675.4 215.8,688.1 216.5,700.0 C217.2,711.9 217.9,735.0 218.5,750.0 C219.1,765.0 219.4,778.3 220.2,790.0 C220.9,801.7 222.0,812.0 223.0,820.0 C224.0,828.0 225.0,833.0 226.0,837.7 C227.0,842.4 227.9,845.0 229.0,848.0 C230.1,851.0 231.4,854.3 232.7,855.5 C233.9,856.7 235.4,854.2 236.5,855.0 C237.6,855.8 238.3,858.0 239.5,860.0 C240.7,862.0 241.5,865.4 243.5,867.1 C245.5,868.8 249.4,869.6 251.5,870.0 C253.6,870.4 254.4,869.8 256.0,869.5 C257.6,869.2 259.4,868.4 261.0,868.5 C262.6,868.6 264.4,869.8 265.7,870.0 C267.0,870.2 267.9,869.9 269.0,869.5 C270.1,869.1 271.0,867.2 272.4,867.4 C273.8,867.6 275.5,870.0 277.1,870.5 C278.7,871.0 281.2,870.6 282.0,870.6" fill="none" stroke="#35b045" stroke-width="1.8" stroke-linejoin="round" stroke-linecap="round"/>
<path d="M12.0,874.0 C13.3,873.8 16.2,873.0 20.0,872.5 C23.8,872.0 13.3,871.8 35.0,871.3 C56.7,870.8 129.9,870.2 150.0,869.8 C170.1,869.4 153.9,869.4 155.8,869.0 C157.7,868.6 159.8,867.6 161.5,867.5 C163.2,867.4 164.6,868.5 166.0,868.5 C167.4,868.5 168.5,868.0 170.0,867.5 C171.5,867.0 173.2,865.6 175.0,865.6 C176.8,865.6 179.1,868.4 180.8,867.5 C182.5,866.6 183.7,864.0 185.0,860.0 C186.3,856.0 187.4,851.0 188.5,843.5 C189.6,836.0 190.6,821.9 191.5,815.0 C192.4,808.1 193.4,802.9 194.2,802.1 C195.0,801.3 195.7,807.0 196.5,810.0 C197.3,813.0 198.1,818.1 199.0,820.4 C199.9,822.7 200.9,823.0 202.0,824.0 C203.1,825.0 204.5,826.5 205.8,826.2 C207.1,825.9 208.9,821.3 210.0,822.3 C211.1,823.3 211.6,826.4 212.5,832.0 C213.4,837.6 214.4,852.0 215.4,856.0 C216.4,860.0 217.5,856.6 218.5,856.0 C219.5,855.4 220.6,851.4 221.5,852.1 C222.4,852.8 223.1,857.3 224.0,860.0 C224.9,862.7 225.8,866.8 227.0,868.5 C228.2,870.2 228.8,870.1 231.0,870.5 C233.2,870.9 238.5,870.6 240.0,870.6" fill="none" stroke="#34475a" stroke-width="1.9" stroke-linejoin="round" stroke-linecap="round"/>
<text x="242.60" y="705.00" font-size="8.8" text-anchor="start" textLength="12.1" lengthAdjust="spacingAndGlyphs" fill="#000">Thr</text>
<line x1="240.20" y1="703.60" x2="217.69" y2="711.48" stroke="#000" stroke-width="1.3"/>
<polygon points="212.50,713.30 217.34,708.96 218.99,713.68" fill="#000"/>
<text x="235.90" y="800.30" font-size="8.8" text-anchor="start" textLength="10.9" lengthAdjust="spacingAndGlyphs" fill="#000">RP</text>
<text x="235.90" y="815.10" font-size="8.8" text-anchor="start" textLength="38.6" lengthAdjust="spacingAndGlyphs" fill="#000">Cyclo+Thr</text>
<text x="235.90" y="834.70" font-size="8.8" text-anchor="start" textLength="39.3" lengthAdjust="spacingAndGlyphs" fill="#000">Vismo+Thr</text>
<line x1="234.70" y1="798.20" x2="205.75" y2="810.72" stroke="#000" stroke-width="1.3"/>
<polygon points="200.70,812.90 205.22,808.22 207.20,812.81" fill="#000"/>
<line x1="234.70" y1="813.40" x2="220.14" y2="819.79" stroke="#000" stroke-width="1.3"/>
<polygon points="215.10,822.00 219.59,817.30 221.60,821.88" fill="#000"/>
<line x1="234.70" y1="832.80" x2="219.50" y2="841.31" stroke="#000" stroke-width="1.3"/>
<polygon points="214.70,844.00 218.71,838.89 221.16,843.25" fill="#000"/>
<rect x="0" y="0" width="520" height="1.5" fill="#000"/>
<rect x="0" y="0" width="1.5" height="896" fill="#000"/>
<rect x="518" y="0" width="2" height="896" fill="#000"/>
<rect x="0" y="894" width="520" height="2" fill="#000"/>
</svg></body></html>
